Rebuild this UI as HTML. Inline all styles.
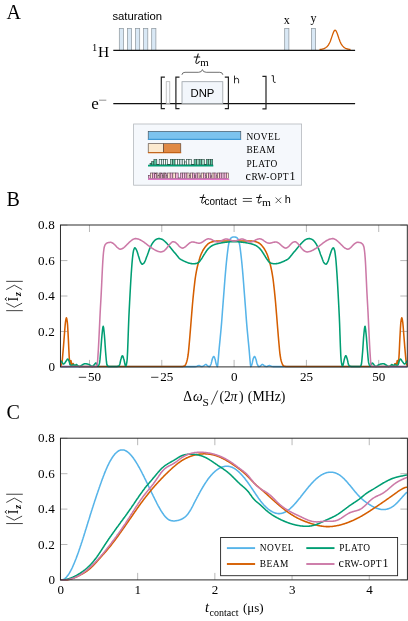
<!DOCTYPE html><html><head><meta charset="utf-8"><title>figure</title>
<style>html,body{margin:0;padding:0;background:#fff;}svg{display:block;will-change:transform}text{fill:#000}</style></head><body>
<svg width="408" height="621" viewBox="0 0 408 621">
<rect width="408" height="621" fill="#fff"/>
<text x="6.6" y="19" style="font-family:&quot;Liberation Serif&quot;,serif;font-size:20px">A</text>
<text x="6.6" y="205.9" style="font-family:&quot;Liberation Serif&quot;,serif;font-size:20px">B</text>
<text x="6.6" y="418.7" style="font-family:&quot;Liberation Serif&quot;,serif;font-size:20px">C</text>
<text x="112.4" y="19.7" style="font-family:&quot;Liberation Sans&quot;,sans-serif;font-size:11.3px" fill="#111">saturation</text>
<rect x="119.3" y="28.4" width="4.2" height="22" fill="#d9e8f5" stroke="#8c959c" stroke-width="0.7"/>
<rect x="127.4" y="28.4" width="4.2" height="22" fill="#d9e8f5" stroke="#8c959c" stroke-width="0.7"/>
<rect x="135.5" y="28.4" width="4.2" height="22" fill="#d9e8f5" stroke="#8c959c" stroke-width="0.7"/>
<rect x="143.6" y="28.4" width="4.2" height="22" fill="#d9e8f5" stroke="#8c959c" stroke-width="0.7"/>
<rect x="151.7" y="28.4" width="4.2" height="22" fill="#d9e8f5" stroke="#8c959c" stroke-width="0.7"/>
<rect x="284.7" y="28.4" width="4.2" height="22" fill="#d9e8f5" stroke="#8c959c" stroke-width="0.7"/>
<rect x="311.4" y="28.4" width="4.2" height="22" fill="#d9e8f5" stroke="#8c959c" stroke-width="0.7"/>
<path d="M319.5,49.6 320.0,49.5 320.5,49.5 321.0,49.4 321.5,49.3 322.0,49.2 322.5,49.1 323.0,48.9 323.5,48.8 324.0,48.6 324.5,48.4 325.0,48.1 325.5,47.8 326.0,47.5 326.5,47.1 327.0,46.7 327.5,46.1 328.0,45.5 328.5,44.8 329.0,43.9 329.5,43.0 330.0,41.9 330.5,40.7 331.0,39.3 331.5,37.9 332.0,36.4 332.5,34.9 333.0,33.5 333.5,32.2 334.0,31.2 334.5,30.5 335.0,30.2 335.5,30.3 336.0,30.9 336.5,31.8 337.0,32.9 337.5,34.3 338.0,35.8 338.5,37.3 339.0,38.8 339.5,40.1 340.0,41.4 340.5,42.5 341.0,43.6 341.5,44.4 342.0,45.2 342.5,45.9 343.0,46.4 343.5,46.9 344.0,47.4 344.5,47.7 345.0,48.0 345.5,48.3 346.0,48.5 346.5,48.7 347.0,48.9 347.5,49.0 348.0,49.1 348.5,49.2 349.0,49.3 349.5,49.4 350.0,49.5 350.5,49.6" fill="none" stroke="#D55E00" stroke-width="1.3"/>
<line x1="113.3" y1="50.3" x2="355.1" y2="50.35" stroke="#111" stroke-width="1.3"/>
<text x="92" y="51.2" style="font-family:&quot;Liberation Serif&quot;,serif;font-size:10.5px">1</text>
<text x="97.9" y="56.9" style="font-family:&quot;Liberation Serif&quot;,serif;font-size:15.5px">H</text>
<text x="286.8" y="23.8" text-anchor="middle" style="font-family:&quot;Liberation Serif&quot;,serif;font-size:12px">x</text>
<text x="313.5" y="22.2" text-anchor="middle" style="font-family:&quot;Liberation Serif&quot;,serif;font-size:12px">y</text>
<line x1="113.3" y1="103.6" x2="355.1" y2="103.65" stroke="#111" stroke-width="1.3"/>
<text x="91.3" y="109" style="font-family:&quot;Liberation Serif&quot;,serif;font-size:17px">e</text>
<line x1="99" y1="100.2" x2="106.3" y2="100.2" stroke="#777" stroke-width="0.8"/>
<rect x="166.2" y="81.7" width="3.6" height="21.9" fill="#fbfcfe" stroke="#aaa" stroke-width="0.7"/>
<rect x="182" y="81.7" width="40.8" height="21.9" fill="#f2f6fb" stroke="#9aa0a6" stroke-width="0.8"/>
<text x="202.4" y="96.8" text-anchor="middle" style="font-family:&quot;Liberation Sans&quot;,sans-serif;font-size:11.3px" fill="#223">DNP</text>
<path d="M164.9,77.2 H161.3 V108.6 H164.9" fill="none" stroke="#222" stroke-width="1.2"/>
<path d="M179.5,77.2 H175.9 V108.6 H179.5" fill="none" stroke="#222" stroke-width="1.2"/>
<path d="M224.8,77.2 H228.4 V108.6 H224.8" fill="none" stroke="#222" stroke-width="1.2"/>
<path d="M262.4,76.4 H266.0 V108.8 H262.4" fill="none" stroke="#222" stroke-width="1.2"/>
<path d="M234.5,75.6 V83.3 M234.5,80 Q234.9,78.2 236.7,78.2 Q238.6,78.2 238.6,80.2 V83.3" fill="none" stroke="#222" stroke-width="0.95"/>
<path d="M271.6,75.7 H273.4 V81.3 Q273.4,82.6 275.6,82.4" fill="none" stroke="#222" stroke-width="1.0"/>
<path d="M181.9,74.8 Q182.2,72.3 185,72.3 H198.5 Q201.8,72.3 202.4,69.6 Q203,72.3 206.3,72.3 H219.8 Q222.6,72.3 222.9,74.8" fill="none" stroke="#333" stroke-width="0.7"/>
<path d="M198.20,53.90 L196.00,61.40 Q195.50,63.40 196.90,63.40 Q198.20,63.40 199.30,61.50 M194.20,57.00 L199.80,57.00" fill="none" stroke="#111" stroke-width="1.05" stroke-linecap="round"/>
<text x="200.3" y="65.7" style="font-family:&quot;Liberation Serif&quot;,serif;font-size:9.4px" textLength="8.5" lengthAdjust="spacingAndGlyphs">m</text>
<rect x="133.6" y="124" width="168" height="61.2" fill="#f5f8fc" stroke="#b4b8bd" stroke-width="0.8"/>
<rect x="148.2" y="131.3" width="92.6" height="8" fill="#7cc3ee" stroke="#3b4650" stroke-width="0.6"/>
<line x1="147.9" y1="139.4" x2="241.1" y2="139.4" stroke="#3f9ad6" stroke-width="1.1"/>
<rect x="148.2" y="143.7" width="15.2" height="8.8" fill="#fbe9cf" stroke="#4a3a30" stroke-width="0.6"/>
<rect x="163.4" y="143.7" width="17.4" height="8.8" fill="#e08a45" stroke="#4a3a30" stroke-width="0.6"/>
<line x1="147.9" y1="152.7" x2="181.2" y2="152.7" stroke="#D55E00" stroke-width="1.1"/>
<rect x="150.00" y="163.28" width="1.70" height="1.62" fill="#5cc0a0" stroke="#27473d" stroke-width="0.6"/><rect x="151.70" y="161.55" width="2.20" height="3.35" fill="#5cc0a0" stroke="#27473d" stroke-width="0.6"/><rect x="153.90" y="159.50" width="2.90" height="5.40" fill="#5cc0a0" stroke="#27473d" stroke-width="0.6"/><rect x="156.80" y="164.36" width="2.40" height="0.54" fill="#27473d" stroke="#27473d" stroke-width="0.6"/><rect x="159.20" y="159.50" width="2.10" height="5.40" fill="#eef4f6" stroke="#27473d" stroke-width="0.6"/><rect x="161.30" y="159.50" width="2.10" height="5.40" fill="#dfe8ee" stroke="#27473d" stroke-width="0.6"/><rect x="163.40" y="159.50" width="2.10" height="5.40" fill="#ffffff" stroke="#27473d" stroke-width="0.6"/><rect x="165.50" y="159.50" width="2.10" height="5.40" fill="#eef4f6" stroke="#27473d" stroke-width="0.6"/><rect x="167.60" y="164.36" width="2.70" height="0.54" fill="#27473d" stroke="#27473d" stroke-width="0.6"/><rect x="170.30" y="159.50" width="2.38" height="5.40" fill="#a6dcc9" stroke="#27473d" stroke-width="0.6"/><rect x="172.68" y="159.50" width="2.38" height="5.40" fill="#5cc0a0" stroke="#27473d" stroke-width="0.6"/><rect x="175.07" y="159.50" width="2.38" height="5.40" fill="#ffffff" stroke="#27473d" stroke-width="0.6"/><rect x="177.45" y="159.50" width="2.38" height="5.40" fill="#eef4f6" stroke="#27473d" stroke-width="0.6"/><rect x="179.83" y="159.50" width="2.38" height="5.40" fill="#dfe8ee" stroke="#27473d" stroke-width="0.6"/><rect x="182.22" y="159.50" width="2.38" height="5.40" fill="#eef4f6" stroke="#27473d" stroke-width="0.6"/><rect x="184.60" y="161.93" width="1.80" height="2.97" fill="#eef4f6" stroke="#27473d" stroke-width="0.6"/><rect x="186.40" y="159.50" width="2.55" height="5.40" fill="#ffffff" stroke="#27473d" stroke-width="0.6"/><rect x="188.95" y="159.50" width="2.55" height="5.40" fill="#eef4f6" stroke="#27473d" stroke-width="0.6"/><rect x="191.50" y="164.36" width="2.60" height="0.54" fill="#27473d" stroke="#27473d" stroke-width="0.6"/><rect x="194.10" y="159.50" width="2.55" height="5.40" fill="#5cc0a0" stroke="#27473d" stroke-width="0.6"/><rect x="196.65" y="159.50" width="2.55" height="5.40" fill="#a6dcc9" stroke="#27473d" stroke-width="0.6"/><rect x="199.20" y="159.50" width="2.55" height="5.40" fill="#5cc0a0" stroke="#27473d" stroke-width="0.6"/><rect x="201.75" y="159.50" width="2.55" height="5.40" fill="#a6dcc9" stroke="#27473d" stroke-width="0.6"/><rect x="204.30" y="164.36" width="2.20" height="0.54" fill="#27473d" stroke="#27473d" stroke-width="0.6"/><rect x="206.50" y="159.50" width="2.07" height="5.40" fill="#5cc0a0" stroke="#27473d" stroke-width="0.6"/><rect x="208.57" y="159.50" width="2.07" height="5.40" fill="#a6dcc9" stroke="#27473d" stroke-width="0.6"/><rect x="210.63" y="159.50" width="2.07" height="5.40" fill="#5cc0a0" stroke="#27473d" stroke-width="0.6"/><line x1="148.0" y1="165.60" x2="213.29999999999998" y2="165.60" stroke="#009E73" stroke-width="1.6"/>
<rect x="148.60" y="175.47" width="1.70" height="3.03" fill="#f2b3d9" stroke="#5e3c52" stroke-width="0.6"/><rect x="150.30" y="173.00" width="2.20" height="5.50" fill="#fbe7d2" stroke="#5e3c52" stroke-width="0.6"/><rect x="152.50" y="173.00" width="2.20" height="5.50" fill="#f2b3d9" stroke="#5e3c52" stroke-width="0.6"/><rect x="154.70" y="173.00" width="1.65" height="5.50" fill="#f2b3d9" stroke="#5e3c52" stroke-width="0.6"/><rect x="156.35" y="173.00" width="1.65" height="5.50" fill="#fbe7d2" stroke="#5e3c52" stroke-width="0.6"/><rect x="158.00" y="175.20" width="1.30" height="3.30" fill="#fbe7d2" stroke="#5e3c52" stroke-width="0.6"/><rect x="159.30" y="173.00" width="1.55" height="5.50" fill="#fbe7d2" stroke="#5e3c52" stroke-width="0.6"/><rect x="160.85" y="173.00" width="1.55" height="5.50" fill="#f2b3d9" stroke="#5e3c52" stroke-width="0.6"/><rect x="162.40" y="175.47" width="1.10" height="3.03" fill="#fbe7d2" stroke="#5e3c52" stroke-width="0.6"/><rect x="163.50" y="173.00" width="1.35" height="5.50" fill="#fbe7d2" stroke="#5e3c52" stroke-width="0.6"/><rect x="164.85" y="173.00" width="1.35" height="5.50" fill="#f2b3d9" stroke="#5e3c52" stroke-width="0.6"/><rect x="166.20" y="175.20" width="1.30" height="3.30" fill="#f6cfe4" stroke="#5e3c52" stroke-width="0.6"/><rect x="167.50" y="173.00" width="2.67" height="5.50" fill="#fbe7d2" stroke="#5e3c52" stroke-width="0.6"/><rect x="170.18" y="173.00" width="2.67" height="5.50" fill="#f2b3d9" stroke="#5e3c52" stroke-width="0.6"/><rect x="172.85" y="173.00" width="2.67" height="5.50" fill="#fbe7d2" stroke="#5e3c52" stroke-width="0.6"/><rect x="175.52" y="173.00" width="2.67" height="5.50" fill="#f2b3d9" stroke="#5e3c52" stroke-width="0.6"/><rect x="178.20" y="177.95" width="2.20" height="0.55" fill="#5e3c52" stroke="#5e3c52" stroke-width="0.6"/><rect x="180.40" y="173.00" width="2.20" height="5.50" fill="#f2b3d9" stroke="#5e3c52" stroke-width="0.6"/><rect x="182.60" y="173.00" width="2.20" height="5.50" fill="#f6cfe4" stroke="#5e3c52" stroke-width="0.6"/><rect x="184.80" y="173.00" width="2.20" height="5.50" fill="#f2b3d9" stroke="#5e3c52" stroke-width="0.6"/><rect x="187.00" y="173.00" width="2.20" height="5.50" fill="#fbe7d2" stroke="#5e3c52" stroke-width="0.6"/><rect x="189.20" y="175.47" width="1.20" height="3.03" fill="#fbe7d2" stroke="#5e3c52" stroke-width="0.6"/><rect x="190.40" y="173.00" width="2.10" height="5.50" fill="#fbe7d2" stroke="#5e3c52" stroke-width="0.6"/><rect x="192.50" y="173.00" width="2.10" height="5.50" fill="#f2b3d9" stroke="#5e3c52" stroke-width="0.6"/><rect x="194.60" y="175.75" width="1.20" height="2.75" fill="#fbe7d2" stroke="#5e3c52" stroke-width="0.6"/><rect x="195.80" y="173.00" width="2.10" height="5.50" fill="#f2b3d9" stroke="#5e3c52" stroke-width="0.6"/><rect x="197.90" y="173.00" width="2.10" height="5.50" fill="#fbe7d2" stroke="#5e3c52" stroke-width="0.6"/><rect x="200.00" y="175.75" width="1.20" height="2.75" fill="#f6cfe4" stroke="#5e3c52" stroke-width="0.6"/><rect x="201.20" y="173.00" width="2.10" height="5.50" fill="#fbe7d2" stroke="#5e3c52" stroke-width="0.6"/><rect x="203.30" y="173.00" width="2.10" height="5.50" fill="#f2b3d9" stroke="#5e3c52" stroke-width="0.6"/><rect x="205.40" y="175.75" width="1.20" height="2.75" fill="#f6cfe4" stroke="#5e3c52" stroke-width="0.6"/><rect x="206.60" y="173.00" width="2.10" height="5.50" fill="#fbe7d2" stroke="#5e3c52" stroke-width="0.6"/><rect x="208.70" y="173.00" width="2.10" height="5.50" fill="#f2b3d9" stroke="#5e3c52" stroke-width="0.6"/><rect x="210.80" y="175.75" width="1.20" height="2.75" fill="#f6cfe4" stroke="#5e3c52" stroke-width="0.6"/><rect x="212.00" y="173.00" width="2.10" height="5.50" fill="#fbe7d2" stroke="#5e3c52" stroke-width="0.6"/><rect x="214.10" y="173.00" width="2.10" height="5.50" fill="#f2b3d9" stroke="#5e3c52" stroke-width="0.6"/><rect x="216.20" y="175.75" width="1.20" height="2.75" fill="#fbe7d2" stroke="#5e3c52" stroke-width="0.6"/><rect x="217.40" y="173.00" width="2.24" height="5.50" fill="#fbe7d2" stroke="#5e3c52" stroke-width="0.6"/><rect x="219.64" y="173.00" width="2.24" height="5.50" fill="#f2b3d9" stroke="#5e3c52" stroke-width="0.6"/><rect x="221.88" y="173.00" width="2.24" height="5.50" fill="#f6cfe4" stroke="#5e3c52" stroke-width="0.6"/><rect x="224.12" y="173.00" width="2.24" height="5.50" fill="#f2b3d9" stroke="#5e3c52" stroke-width="0.6"/><rect x="226.36" y="173.00" width="2.24" height="5.50" fill="#fbe7d2" stroke="#5e3c52" stroke-width="0.6"/><line x1="148.0" y1="179.15" x2="229.2" y2="179.15" stroke="#e277c8" stroke-width="1.5"/>
<text x="246.4" y="140.1" style="font-family:&quot;Liberation Serif&quot;,serif;font-size:9.4px;letter-spacing:0.45px" text-anchor="start">NOVEL</text>
<text x="246.4" y="153.1" style="font-family:&quot;Liberation Serif&quot;,serif;font-size:9.4px;letter-spacing:0.45px" text-anchor="start">BEAM</text>
<text x="246.4" y="166.6" style="font-family:&quot;Liberation Serif&quot;,serif;font-size:9.4px;letter-spacing:0.45px" text-anchor="start">PLATO</text>
<text x="245.6" y="180.1" style="font-family:&quot;Liberation Serif&quot;,serif;font-size:9.4px;letter-spacing:0.45px"><tspan style="font-size:12px">c</tspan>RW-OPT<tspan style="font-size:12px" dx="0.6">1</tspan></text>
<path d="M203.62,194.75 L201.68,201.35 Q201.24,203.11 202.48,203.11 Q203.62,203.11 204.59,201.44 M200.10,197.48 L205.03,197.48" fill="none" stroke="#111" stroke-width="1.0" stroke-linecap="round"/>
<text x="204.5" y="205.3" style="font-family:&quot;Liberation Sans&quot;,sans-serif;font-size:10.5px" fill="#111" textLength="32.2" lengthAdjust="spacingAndGlyphs">contact</text>
<path d="M242.8,198.5 H251.9 M242.8,201.4 H251.9" stroke="#111" stroke-width="0.75" fill="none"/>
<path d="M260.12,194.75 L258.18,201.35 Q257.74,203.11 258.98,203.11 Q260.12,203.11 261.09,201.44 M256.60,197.48 L261.53,197.48" fill="none" stroke="#111" stroke-width="1.0" stroke-linecap="round"/>
<text x="262.1" y="205.6" style="font-family:&quot;Liberation Serif&quot;,serif;font-size:9.6px" textLength="8.9" lengthAdjust="spacingAndGlyphs">m</text>
<path d="M275.6,197.5 L281.2,203.1 M281.2,197.5 L275.6,203.1" stroke="#222" stroke-width="0.75" fill="none"/>
<text x="284.7" y="203.2" style="font-family:&quot;Liberation Sans&quot;,sans-serif;font-size:10.9px" fill="#111">h</text>
<line x1="89.475" y1="366.9" x2="89.475" y2="359.9" stroke="#7d7d7d" stroke-width="0.55"/><line x1="89.475" y1="225.0" x2="89.475" y2="232.0" stroke="#7d7d7d" stroke-width="0.55"/><line x1="161.7875" y1="366.9" x2="161.7875" y2="359.9" stroke="#7d7d7d" stroke-width="0.55"/><line x1="161.7875" y1="225.0" x2="161.7875" y2="232.0" stroke="#7d7d7d" stroke-width="0.55"/><line x1="234.1" y1="366.9" x2="234.1" y2="359.9" stroke="#7d7d7d" stroke-width="0.55"/><line x1="234.1" y1="225.0" x2="234.1" y2="232.0" stroke="#7d7d7d" stroke-width="0.55"/><line x1="306.4125" y1="366.9" x2="306.4125" y2="359.9" stroke="#7d7d7d" stroke-width="0.55"/><line x1="306.4125" y1="225.0" x2="306.4125" y2="232.0" stroke="#7d7d7d" stroke-width="0.55"/><line x1="378.725" y1="366.9" x2="378.725" y2="359.9" stroke="#7d7d7d" stroke-width="0.55"/><line x1="378.725" y1="225.0" x2="378.725" y2="232.0" stroke="#7d7d7d" stroke-width="0.55"/><line x1="60.45" y1="366.9" x2="67.45" y2="366.9" stroke="#7d7d7d" stroke-width="0.55"/><line x1="407.3" y1="366.9" x2="400.3" y2="366.9" stroke="#7d7d7d" stroke-width="0.55"/><line x1="60.45" y1="331.46" x2="67.45" y2="331.46" stroke="#7d7d7d" stroke-width="0.55"/><line x1="407.3" y1="331.46" x2="400.3" y2="331.46" stroke="#7d7d7d" stroke-width="0.55"/><line x1="60.45" y1="296.02" x2="67.45" y2="296.02" stroke="#7d7d7d" stroke-width="0.55"/><line x1="407.3" y1="296.02" x2="400.3" y2="296.02" stroke="#7d7d7d" stroke-width="0.55"/><line x1="60.45" y1="260.58" x2="67.45" y2="260.58" stroke="#7d7d7d" stroke-width="0.55"/><line x1="407.3" y1="260.58" x2="400.3" y2="260.58" stroke="#7d7d7d" stroke-width="0.55"/><line x1="60.45" y1="225.14" x2="67.45" y2="225.14" stroke="#7d7d7d" stroke-width="0.55"/><line x1="407.3" y1="225.14" x2="400.3" y2="225.14" stroke="#7d7d7d" stroke-width="0.55"/>
<clipPath id="cb"><rect x="60.45" y="225.0" width="346.85" height="142.89999999999998"/></clipPath>
<g clip-path="url(#cb)">
<path d="M60.4,366.6 60.8,366.6 61.2,366.6 61.6,366.6 62.0,366.6 62.4,366.6 62.8,366.6 63.2,366.6 63.6,366.6 64.0,366.6 64.4,366.6 64.8,366.6 65.2,366.6 65.6,366.6 66.0,366.6 66.4,366.6 66.8,366.6 67.2,366.6 67.6,366.6 68.0,366.6 68.4,366.6 68.8,366.6 69.2,366.6 69.6,366.6 70.0,366.6 70.4,366.6 70.8,366.6 71.2,366.6 71.6,366.6 72.0,366.6 72.4,366.6 72.8,366.6 73.2,366.6 73.6,366.6 74.0,366.6 74.4,366.6 74.8,366.6 75.2,366.6 75.6,366.6 76.0,366.6 76.4,366.6 76.8,366.6 77.2,366.6 77.6,366.6 78.0,366.6 78.4,366.6 78.8,366.6 79.2,366.6 79.6,366.6 80.0,366.6 80.4,366.6 80.8,366.6 81.2,366.6 81.6,366.6 82.0,366.6 82.4,366.6 82.8,366.6 83.2,366.6 83.6,366.6 84.0,366.6 84.4,366.6 84.8,366.6 85.2,366.6 85.6,366.6 86.0,366.6 86.4,366.6 86.8,366.6 87.2,366.6 87.6,366.6 88.0,366.6 88.4,366.6 88.8,366.6 89.2,366.6 89.6,366.6 90.0,366.6 90.4,366.6 90.8,366.6 91.2,366.6 91.6,366.6 92.0,366.6 92.4,366.6 92.8,366.6 93.2,366.6 93.6,366.6 94.0,366.6 94.4,366.6 94.8,366.6 95.2,366.6 95.6,366.6 96.0,366.6 96.4,366.6 96.8,366.6 97.2,366.6 97.6,366.6 98.0,366.6 98.4,366.6 98.8,366.6 99.2,366.6 99.6,366.6 100.0,366.6 100.4,366.6 100.8,366.6 101.2,366.6 101.6,366.6 102.0,366.6 102.4,366.6 102.8,366.6 103.2,366.6 103.6,366.6 104.0,366.6 104.4,366.6 104.8,366.6 105.2,366.6 105.6,366.6 106.0,366.6 106.4,366.6 106.8,366.6 107.2,366.6 107.6,366.6 108.0,366.6 108.4,366.6 108.8,366.6 109.2,366.6 109.6,366.6 110.0,366.6 110.4,366.6 110.8,366.6 111.2,366.6 111.6,366.6 112.0,366.6 112.4,366.6 112.8,366.6 113.2,366.6 113.6,366.6 114.0,366.6 114.4,366.6 114.8,366.6 115.2,366.6 115.6,366.6 116.0,366.6 116.4,366.6 116.8,366.6 117.2,366.6 117.6,366.6 118.0,366.6 118.4,366.6 118.8,366.6 119.2,366.6 119.6,366.6 120.0,366.6 120.4,366.6 120.8,366.6 121.2,366.6 121.6,366.6 122.0,366.6 122.4,366.6 122.8,366.6 123.2,366.6 123.6,366.6 124.0,366.6 124.4,366.6 124.8,366.6 125.2,366.6 125.6,366.6 126.0,366.6 126.4,366.6 126.8,366.6 127.2,366.6 127.6,366.6 128.0,366.6 128.4,366.6 128.8,366.6 129.2,366.6 129.6,366.6 130.0,366.6 130.4,366.6 130.8,366.6 131.2,366.6 131.6,366.6 132.0,366.6 132.4,366.6 132.8,366.6 133.2,366.6 133.6,366.6 134.0,366.6 134.4,366.6 134.8,366.6 135.2,366.6 135.6,366.6 136.0,366.6 136.4,366.6 136.8,366.6 137.2,366.6 137.6,366.6 138.0,366.6 138.4,366.6 138.8,366.6 139.2,366.6 139.6,366.6 140.0,366.6 140.4,366.6 140.8,366.6 141.2,366.6 141.6,366.6 142.0,366.6 142.4,366.6 142.8,366.6 143.2,366.6 143.6,366.6 144.0,366.6 144.4,366.6 144.8,366.6 145.2,366.6 145.6,366.6 146.0,366.6 146.4,366.6 146.8,366.6 147.2,366.6 147.6,366.6 148.0,366.6 148.4,366.6 148.8,366.6 149.2,366.6 149.6,366.6 150.0,366.6 150.0,366.6 150.4,366.6 150.8,366.6 151.2,366.6 151.6,366.6 152.0,366.6 152.4,366.6 152.8,366.6 153.2,366.6 153.6,366.6 154.0,366.6 154.4,366.6 154.8,366.6 155.2,366.6 155.6,366.6 156.0,366.6 156.4,366.6 156.8,366.6 157.2,366.6 157.6,366.6 158.0,366.6 158.4,366.6 158.8,366.6 159.2,366.6 159.6,366.6 160.0,366.6 160.4,366.6 160.8,366.6 161.2,366.6 161.6,366.6 162.0,366.6 162.4,366.6 162.8,366.6 163.2,366.6 163.6,366.6 164.0,366.6 164.4,366.6 164.8,366.6 165.2,366.6 165.6,366.6 166.0,366.6 166.4,366.6 166.8,366.6 167.2,366.6 167.6,366.6 168.0,366.6 168.4,366.6 168.8,366.6 169.2,366.6 169.6,366.6 170.0,366.6 170.4,366.6 170.8,366.6 171.2,366.6 171.6,366.6 172.0,366.6 172.4,366.6 172.8,366.6 173.2,366.6 173.6,366.6 174.0,366.6 174.4,366.6 174.8,366.6 175.2,366.6 175.6,366.6 176.0,366.6 176.4,366.6 176.8,366.6 177.2,366.6 177.6,366.6 178.0,366.6 178.4,366.6 178.8,366.6 179.2,366.6 179.6,366.6 180.0,366.6 180.4,366.6 180.8,366.6 181.2,366.6 181.6,366.6 182.0,366.6 182.4,366.6 182.8,366.6 183.2,366.6 183.6,366.6 184.0,366.6 184.4,366.6 184.8,366.6 185.2,366.6 185.6,366.6 186.0,366.6 186.4,366.6 186.8,366.6 187.2,366.6 187.6,366.6 188.0,366.6 188.4,366.6 188.8,366.6 189.2,366.6 189.6,366.6 190.0,366.6 190.4,366.6 190.8,366.6 191.2,366.6 191.6,366.6 192.0,366.6 192.4,366.6 192.8,366.6 193.2,366.6 193.6,366.6 194.0,366.6 194.4,366.6 194.8,366.6 195.0,366.6 195.2,366.6 195.6,366.6 196.0,366.5 196.0,366.5 196.4,366.4 196.8,366.3 197.2,366.1 197.6,366.0 198.0,365.8 198.4,365.7 198.8,365.6 199.0,365.6 199.2,365.6 199.6,365.7 200.0,365.9 200.4,366.1 200.8,366.3 201.2,366.5 201.5,366.5 201.6,366.5 202.0,366.5 202.4,366.4 202.8,366.2 203.2,366.1 203.5,366.0 203.6,366.0 204.0,365.7 204.4,365.3 204.8,365.0 205.2,364.6 205.6,364.4 205.8,364.4 206.0,364.4 206.4,364.7 206.8,365.1 207.2,365.5 207.6,365.9 207.8,366.0 208.0,366.1 208.4,366.3 208.8,366.5 209.2,366.6 209.4,366.6 209.6,366.5 210.0,366.1 210.4,365.4 210.8,364.5 211.0,364.0 211.2,363.4 211.6,361.9 212.0,360.2 212.4,358.8 212.5,358.5 212.8,357.8 213.2,357.0 213.6,356.5 213.7,356.5 214.0,356.7 214.4,357.3 214.8,358.3 214.9,358.5 215.2,359.5 215.6,361.4 216.0,363.3 216.2,364.0 216.4,364.6 216.8,365.7 217.2,366.5 217.4,366.6 217.6,365.9 218.0,362.1 218.2,360.0 218.4,357.8 218.8,352.8 219.0,350.4 219.2,348.2 219.6,344.1 220.0,340.1 220.2,338.0 220.4,335.9 220.8,331.7 221.2,327.4 221.5,323.9 221.6,322.7 222.0,317.5 222.4,312.0 222.7,308.0 222.8,306.7 223.2,301.5 223.6,296.4 223.9,292.5 224.0,291.2 224.4,285.9 224.8,280.7 225.1,277.0 225.2,275.8 225.6,271.1 226.0,266.6 226.3,263.5 226.4,262.5 226.8,258.6 227.2,255.0 227.5,252.5 227.6,251.7 228.0,248.5 228.4,245.7 228.7,244.0 228.8,243.5 229.2,241.9 229.6,240.5 230.0,239.5 230.0,239.5 230.4,238.8 230.8,238.2 231.2,237.8 231.5,237.6 231.6,237.6 232.0,237.4 232.4,237.2 232.8,237.1 233.2,237.0 233.6,236.9 234.0,236.9 234.1,236.9 234.4,236.9 234.8,237.0 235.2,237.0 235.6,237.2 236.0,237.3 236.4,237.5 236.7,237.6 236.8,237.7 237.2,238.0 237.6,238.5 238.0,239.1 238.2,239.5 238.4,239.9 238.8,241.1 239.2,242.7 239.5,244.0 239.6,244.5 240.0,247.0 240.4,250.1 240.7,252.5 240.8,253.3 241.2,256.8 241.6,260.5 241.9,263.5 242.0,264.5 242.4,268.8 242.8,273.4 243.1,277.0 243.2,278.2 243.6,283.3 244.0,288.6 244.3,292.5 244.4,293.8 244.8,298.9 245.2,304.1 245.5,308.0 245.6,309.3 246.0,314.8 246.4,320.1 246.7,323.9 246.8,325.1 247.2,329.6 247.6,333.8 248.0,338.0 248.0,338.0 248.4,342.1 248.8,346.1 249.2,350.4 249.2,350.4 249.6,355.3 250.0,360.0 250.0,360.0 250.4,364.3 250.8,366.6 250.8,366.6 251.2,366.2 251.6,365.2 252.0,364.0 252.0,364.0 252.4,362.4 252.8,360.4 253.2,358.8 253.3,358.5 253.6,357.8 254.0,357.0 254.4,356.5 254.5,356.5 254.8,356.7 255.2,357.4 255.6,358.3 255.7,358.5 256.0,359.4 256.4,361.0 256.8,362.7 257.2,364.0 257.2,364.0 257.6,364.9 258.0,365.8 258.4,366.4 258.8,366.6 258.8,366.6 259.2,366.5 259.6,366.4 260.0,366.2 260.4,366.0 260.4,366.0 260.8,365.7 261.2,365.3 261.6,364.9 262.0,364.5 262.4,364.4 262.4,364.4 262.8,364.5 263.2,364.8 263.6,365.1 264.0,365.5 264.4,365.8 264.7,366.0 264.8,366.0 265.2,366.2 265.6,366.3 266.0,366.4 266.4,366.5 266.7,366.5 266.8,366.5 267.2,366.4 267.6,366.2 268.0,366.0 268.4,365.8 268.8,365.7 269.2,365.6 269.2,365.6 269.6,365.6 270.0,365.7 270.4,365.9 270.8,366.0 271.2,366.2 271.6,366.4 272.0,366.5 272.2,366.5 272.4,366.5 272.8,366.6 273.2,366.6 273.2,366.6 273.6,366.6 274.0,366.6 274.4,366.6 274.8,366.6 275.2,366.6 275.6,366.6 276.0,366.6 276.4,366.6 276.8,366.6 277.2,366.6 277.6,366.6 278.0,366.6 278.4,366.6 278.8,366.6 279.2,366.6 279.6,366.6 280.0,366.6 280.4,366.6 280.8,366.6 281.2,366.6 281.6,366.6 282.0,366.6 282.4,366.6 282.8,366.6 283.2,366.6 283.6,366.6 284.0,366.6 284.4,366.6 284.8,366.6 285.2,366.6 285.6,366.6 286.0,366.6 286.4,366.6 286.8,366.6 287.2,366.6 287.6,366.6 288.0,366.6 288.4,366.6 288.8,366.6 289.2,366.6 289.6,366.6 290.0,366.6 290.4,366.6 290.8,366.6 291.2,366.6 291.6,366.6 292.0,366.6 292.4,366.6 292.8,366.6 293.2,366.6 293.6,366.6 294.0,366.6 294.4,366.6 294.8,366.6 295.2,366.6 295.6,366.6 296.0,366.6 296.4,366.6 296.8,366.6 297.2,366.6 297.6,366.6 298.0,366.6 298.4,366.6 298.8,366.6 299.2,366.6 299.6,366.6 300.0,366.6 300.4,366.6 300.8,366.6 301.2,366.6 301.6,366.6 302.0,366.6 302.4,366.6 302.8,366.6 303.2,366.6 303.6,366.6 304.0,366.6 304.4,366.6 304.8,366.6 305.2,366.6 305.6,366.6 306.0,366.6 306.4,366.6 306.8,366.6 307.2,366.6 307.6,366.6 308.0,366.6 308.4,366.6 308.8,366.6 309.2,366.6 309.6,366.6 310.0,366.6 310.4,366.6 310.8,366.6 311.2,366.6 311.6,366.6 312.0,366.6 312.4,366.6 312.8,366.6 313.2,366.6 313.6,366.6 314.0,366.6 314.4,366.6 314.8,366.6 315.2,366.6 315.6,366.6 316.0,366.6 316.4,366.6 316.8,366.6 317.2,366.6 317.6,366.6 318.0,366.6 318.2,366.6 318.4,366.6 318.8,366.6 319.2,366.6 319.6,366.6 320.0,366.6 320.4,366.6 320.8,366.6 321.2,366.6 321.6,366.6 322.0,366.6 322.4,366.6 322.8,366.6 323.2,366.6 323.6,366.6 324.0,366.6 324.4,366.6 324.8,366.6 325.2,366.6 325.6,366.6 326.0,366.6 326.4,366.6 326.8,366.6 327.2,366.6 327.6,366.6 328.0,366.6 328.4,366.6 328.8,366.6 329.2,366.6 329.6,366.6 330.0,366.6 330.4,366.6 330.8,366.6 331.2,366.6 331.6,366.6 332.0,366.6 332.4,366.6 332.8,366.6 333.2,366.6 333.6,366.6 334.0,366.6 334.4,366.6 334.8,366.6 335.2,366.6 335.6,366.6 336.0,366.6 336.4,366.6 336.8,366.6 337.2,366.6 337.6,366.6 338.0,366.6 338.4,366.6 338.8,366.6 339.2,366.6 339.6,366.6 340.0,366.6 340.4,366.6 340.8,366.6 341.2,366.6 341.6,366.6 342.0,366.6 342.4,366.6 342.8,366.6 343.2,366.6 343.6,366.6 344.0,366.6 344.4,366.6 344.8,366.6 345.2,366.6 345.6,366.6 346.0,366.6 346.4,366.6 346.8,366.6 347.2,366.6 347.6,366.6 348.0,366.6 348.4,366.6 348.8,366.6 349.2,366.6 349.6,366.6 350.0,366.6 350.4,366.6 350.8,366.6 351.2,366.6 351.6,366.6 352.0,366.6 352.4,366.6 352.8,366.6 353.2,366.6 353.6,366.6 354.0,366.6 354.4,366.6 354.8,366.6 355.2,366.6 355.6,366.6 356.0,366.6 356.4,366.6 356.8,366.6 357.2,366.6 357.6,366.6 358.0,366.6 358.4,366.6 358.8,366.6 359.2,366.6 359.6,366.6 360.0,366.6 360.4,366.6 360.8,366.6 361.2,366.6 361.6,366.6 362.0,366.6 362.4,366.6 362.8,366.6 363.2,366.6 363.6,366.6 364.0,366.6 364.4,366.6 364.8,366.6 365.2,366.6 365.6,366.6 366.0,366.6 366.4,366.6 366.8,366.6 367.2,366.6 367.6,366.6 368.0,366.6 368.4,366.6 368.8,366.6 369.2,366.6 369.6,366.6 370.0,366.6 370.4,366.6 370.8,366.6 371.2,366.6 371.6,366.6 372.0,366.6 372.4,366.6 372.8,366.6 373.2,366.6 373.6,366.6 374.0,366.6 374.4,366.6 374.8,366.6 375.2,366.6 375.6,366.6 376.0,366.6 376.4,366.6 376.8,366.6 377.2,366.6 377.6,366.6 378.0,366.6 378.4,366.6 378.8,366.6 379.2,366.6 379.6,366.6 380.0,366.6 380.4,366.6 380.8,366.6 381.2,366.6 381.6,366.6 382.0,366.6 382.4,366.6 382.8,366.6 383.2,366.6 383.6,366.6 384.0,366.6 384.4,366.6 384.8,366.6 385.2,366.6 385.6,366.6 386.0,366.6 386.4,366.6 386.8,366.6 387.2,366.6 387.6,366.6 388.0,366.6 388.4,366.6 388.8,366.6 389.2,366.6 389.6,366.6 390.0,366.6 390.4,366.6 390.8,366.6 391.2,366.6 391.6,366.6 392.0,366.6 392.4,366.6 392.8,366.6 393.2,366.6 393.6,366.6 394.0,366.6 394.4,366.6 394.8,366.6 395.2,366.6 395.6,366.6 396.0,366.6 396.4,366.6 396.8,366.6 397.2,366.6 397.6,366.6 398.0,366.6 398.4,366.6 398.8,366.6 399.2,366.6 399.6,366.6 400.0,366.6 400.4,366.6 400.8,366.6 401.2,366.6 401.6,366.6 402.0,366.6 402.4,366.6 402.8,366.6 403.2,366.6 403.6,366.6 404.0,366.6 404.4,366.6 404.8,366.6 405.2,366.6 405.6,366.6 406.0,366.6 406.4,366.6 406.8,366.6 407.2,366.6 407.6,366.6 407.8,366.6" fill="none" stroke="#56B4E9" stroke-width="1.55" stroke-linejoin="round" />
<path d="M60.4,366.0 60.8,365.8 61.2,365.2 61.6,364.3 61.7,364.0 62.0,362.5 62.4,358.8 62.8,354.2 63.0,352.0 63.2,349.8 63.6,344.9 64.0,339.7 64.3,336.0 64.4,334.8 64.8,329.5 65.2,324.6 65.5,322.0 65.6,321.3 66.0,318.9 66.4,317.8 66.4,317.8 66.8,318.8 67.2,321.3 67.3,322.0 67.6,325.4 68.0,332.4 68.3,338.0 68.4,339.9 68.8,348.8 69.2,356.7 69.3,358.0 69.6,361.5 70.0,364.0 70.0,364.0 70.4,362.5 70.8,360.6 70.9,360.5 71.2,361.7 71.6,364.4 71.8,365.0 72.0,364.9 72.4,364.3 72.8,363.6 73.0,363.5 73.2,363.6 73.6,364.4 74.0,365.4 74.4,366.0 74.5,366.0 74.8,365.9 75.2,365.7 75.6,365.4 76.0,365.3 76.0,365.3 76.4,365.4 76.8,365.6 77.2,365.9 77.6,366.2 78.0,366.3 78.0,366.3 78.4,366.3 78.8,366.3 79.2,366.3 79.6,366.4 80.0,366.4 80.4,366.4 80.8,366.4 81.2,366.4 81.6,366.4 82.0,366.4 82.4,366.4 82.8,366.4 83.2,366.4 83.6,366.5 84.0,366.5 84.4,366.5 84.8,366.5 85.2,366.5 85.6,366.5 86.0,366.5 86.4,366.5 86.8,366.5 87.2,366.5 87.6,366.5 88.0,366.5 88.4,366.5 88.8,366.5 89.2,366.5 89.6,366.5 90.0,366.5 90.0,366.5 90.4,366.5 90.8,366.5 91.2,366.5 91.6,366.5 92.0,366.5 92.4,366.5 92.8,366.5 93.2,366.5 93.6,366.5 94.0,366.5 94.4,366.5 94.8,366.5 95.2,366.5 95.6,366.5 96.0,366.5 96.4,366.5 96.8,366.5 97.2,366.5 97.6,366.5 98.0,366.5 98.4,366.5 98.8,366.5 99.2,366.5 99.6,366.5 100.0,366.5 100.4,366.5 100.8,366.5 101.2,366.5 101.6,366.5 102.0,366.5 102.4,366.5 102.8,366.5 103.2,366.5 103.6,366.5 104.0,366.5 104.4,366.5 104.8,366.5 105.2,366.5 105.6,366.5 106.0,366.5 106.4,366.5 106.8,366.5 107.2,366.5 107.6,366.5 108.0,366.5 108.4,366.5 108.8,366.5 109.2,366.5 109.6,366.5 110.0,366.5 110.4,366.5 110.8,366.5 111.2,366.5 111.6,366.5 112.0,366.5 112.4,366.5 112.8,366.5 113.2,366.5 113.6,366.5 114.0,366.5 114.4,366.5 114.8,366.5 115.2,366.5 115.6,366.5 116.0,366.5 116.4,366.5 116.8,366.5 117.2,366.5 117.6,366.5 118.0,366.5 118.4,366.5 118.8,366.5 119.2,366.5 119.6,366.5 120.0,366.5 120.4,366.5 120.8,366.5 121.2,366.5 121.6,366.5 122.0,366.5 122.4,366.5 122.8,366.5 123.2,366.5 123.6,366.5 124.0,366.5 124.4,366.5 124.8,366.5 125.2,366.5 125.6,366.5 126.0,366.5 126.4,366.5 126.8,366.5 127.2,366.5 127.6,366.5 128.0,366.5 128.4,366.5 128.8,366.5 129.2,366.5 129.6,366.5 130.0,366.5 130.4,366.5 130.8,366.5 131.2,366.5 131.6,366.5 132.0,366.5 132.4,366.5 132.8,366.5 133.2,366.5 133.6,366.5 134.0,366.5 134.4,366.5 134.8,366.5 135.2,366.5 135.6,366.5 136.0,366.5 136.4,366.5 136.8,366.5 137.2,366.5 137.6,366.5 138.0,366.5 138.4,366.5 138.8,366.5 139.2,366.5 139.6,366.5 140.0,366.5 140.4,366.5 140.8,366.5 141.2,366.5 141.6,366.5 142.0,366.5 142.4,366.5 142.8,366.5 143.2,366.5 143.6,366.5 144.0,366.5 144.4,366.5 144.8,366.5 145.2,366.5 145.6,366.5 146.0,366.5 146.4,366.5 146.8,366.5 147.2,366.5 147.6,366.5 148.0,366.5 148.4,366.5 148.8,366.5 149.2,366.5 149.6,366.5 150.0,366.5 150.0,366.5 150.4,366.5 150.8,366.5 151.2,366.5 151.6,366.5 152.0,366.5 152.4,366.5 152.8,366.5 153.2,366.5 153.6,366.5 154.0,366.5 154.4,366.5 154.8,366.5 155.2,366.5 155.6,366.5 156.0,366.5 156.4,366.5 156.8,366.5 157.2,366.5 157.6,366.5 158.0,366.5 158.4,366.5 158.8,366.5 159.2,366.5 159.6,366.5 160.0,366.5 160.4,366.5 160.8,366.5 161.2,366.5 161.6,366.5 162.0,366.5 162.4,366.5 162.8,366.5 163.2,366.5 163.6,366.5 164.0,366.5 164.4,366.5 164.8,366.5 165.2,366.5 165.6,366.5 166.0,366.5 166.4,366.5 166.8,366.5 167.2,366.5 167.6,366.5 168.0,366.5 168.4,366.5 168.8,366.5 169.2,366.5 169.6,366.5 170.0,366.5 170.4,366.5 170.8,366.5 171.2,366.5 171.6,366.5 172.0,366.5 172.4,366.5 172.8,366.5 173.2,366.5 173.6,366.5 174.0,366.5 174.4,366.5 174.8,366.5 175.2,366.5 175.6,366.5 176.0,366.5 176.4,366.5 176.8,366.5 177.2,366.5 177.6,366.5 178.0,366.5 178.4,366.5 178.8,366.5 179.2,366.5 179.6,366.5 180.0,366.5 180.4,366.5 180.8,366.5 181.0,366.5 181.2,366.5 181.6,366.5 182.0,366.5 182.4,366.4 182.8,366.4 183.2,366.3 183.6,366.2 184.0,366.1 184.4,366.0 184.5,366.0 184.8,365.8 185.2,365.3 185.6,364.5 186.0,363.6 186.4,362.6 186.6,362.0 186.8,361.4 187.2,359.9 187.6,357.9 188.0,355.6 188.1,355.0 188.4,352.6 188.8,348.6 189.2,344.1 189.3,343.0 189.6,339.6 190.0,334.8 190.4,329.9 190.5,328.7 190.8,325.0 191.2,320.0 191.6,315.0 191.6,315.0 192.0,310.1 192.4,305.3 192.8,300.8 192.9,299.7 193.2,296.6 193.6,292.6 194.0,288.9 194.1,288.0 194.4,285.3 194.8,281.8 195.2,278.7 195.3,278.0 195.6,276.0 196.0,273.6 196.4,271.4 196.8,269.4 197.1,268.0 197.2,267.5 197.6,265.8 198.0,264.2 198.4,262.8 198.8,261.3 198.9,261.0 199.2,260.0 199.6,258.6 200.0,257.3 200.4,256.1 200.8,255.0 201.0,254.5 201.2,254.0 201.6,253.1 202.0,252.3 202.4,251.5 202.8,250.7 203.2,250.0 203.5,249.5 203.6,249.3 204.0,248.7 204.4,248.1 204.8,247.5 205.2,247.0 205.6,246.5 206.0,246.0 206.0,246.0 206.4,245.5 206.8,245.1 207.2,244.7 207.6,244.3 208.0,243.9 208.4,243.6 208.4,243.6 208.8,243.3 209.2,243.1 209.6,242.8 210.0,242.6 210.4,242.4 210.8,242.3 211.0,242.2 211.2,242.1 211.6,242.0 212.0,241.9 212.4,241.7 212.8,241.6 213.2,241.6 213.5,241.5 213.6,241.5 214.0,241.4 214.4,241.4 214.8,241.3 215.2,241.3 215.6,241.2 216.0,241.2 216.4,241.1 216.8,241.1 217.0,241.1 217.2,241.1 217.6,241.1 218.0,241.1 218.4,241.0 218.8,241.0 219.2,241.0 219.6,241.0 220.0,241.0 220.4,241.0 220.8,241.0 221.0,241.0 221.2,241.0 221.6,241.0 222.0,241.0 222.4,241.0 222.8,241.0 223.2,241.0 223.6,241.0 224.0,241.0 224.4,241.0 224.8,241.0 225.2,241.0 225.6,241.0 226.0,241.0 226.4,241.0 226.8,241.0 227.0,241.0 227.2,241.0 227.6,241.0 228.0,241.0 228.4,241.0 228.8,241.0 229.2,241.0 229.6,241.0 230.0,241.0 230.4,241.0 230.8,241.0 231.2,241.0 231.6,241.0 232.0,241.0 232.4,241.0 232.8,241.0 233.2,241.0 233.6,241.0 234.0,241.0 234.1,241.0 234.4,241.0 234.8,241.0 235.2,241.0 235.6,241.0 236.0,241.0 236.4,241.0 236.8,241.0 237.2,241.0 237.6,241.0 238.0,241.0 238.4,241.0 238.8,241.0 239.2,241.0 239.6,241.0 240.0,241.0 240.4,241.0 240.8,241.0 241.2,241.0 241.2,241.0 241.6,241.0 242.0,241.0 242.4,241.0 242.8,241.0 243.2,241.0 243.6,241.0 244.0,241.0 244.4,241.0 244.8,241.0 245.2,241.0 245.6,241.0 246.0,241.0 246.4,241.0 246.8,241.0 247.2,241.0 247.2,241.0 247.6,241.0 248.0,241.0 248.4,241.0 248.8,241.0 249.2,241.0 249.6,241.0 250.0,241.1 250.4,241.1 250.8,241.1 251.2,241.1 251.2,241.1 251.6,241.1 252.0,241.1 252.4,241.2 252.8,241.2 253.2,241.3 253.6,241.3 254.0,241.4 254.4,241.5 254.7,241.5 254.8,241.5 255.2,241.6 255.6,241.7 256.0,241.8 256.4,241.9 256.8,242.1 257.2,242.2 257.2,242.2 257.6,242.4 258.0,242.5 258.4,242.7 258.8,243.0 259.2,243.2 259.6,243.5 259.8,243.6 260.0,243.7 260.4,244.1 260.8,244.5 261.2,244.9 261.6,245.3 262.0,245.8 262.2,246.0 262.4,246.2 262.8,246.7 263.2,247.3 263.6,247.8 264.0,248.4 264.4,249.0 264.7,249.5 264.8,249.7 265.2,250.4 265.6,251.1 266.0,251.8 266.4,252.7 266.8,253.6 267.2,254.5 267.2,254.5 267.6,255.5 268.0,256.7 268.4,258.0 268.8,259.3 269.2,260.7 269.3,261.0 269.6,262.0 270.0,263.5 270.4,265.0 270.8,266.7 271.1,268.0 271.2,268.5 271.6,270.4 272.0,272.5 272.4,274.8 272.8,277.3 272.9,278.0 273.2,280.2 273.6,283.5 274.0,287.1 274.1,288.0 274.4,290.7 274.8,294.6 275.2,298.6 275.3,299.7 275.6,303.0 276.0,307.7 276.4,312.6 276.6,315.0 276.8,317.5 277.2,322.5 277.6,327.5 277.7,328.7 278.0,332.4 278.4,337.3 278.8,341.9 278.9,343.0 279.2,346.3 279.6,350.7 280.0,354.3 280.1,355.0 280.4,356.8 280.8,359.0 281.2,360.7 281.6,362.0 281.6,362.0 282.0,363.1 282.4,364.1 282.8,365.0 283.2,365.6 283.6,366.0 283.7,366.0 284.0,366.1 284.4,366.2 284.8,366.3 285.2,366.3 285.6,366.4 286.0,366.4 286.4,366.5 286.8,366.5 287.2,366.5 287.2,366.5 287.6,366.5 288.0,366.5 288.4,366.5 288.8,366.5 289.2,366.5 289.6,366.5 290.0,366.5 290.4,366.5 290.8,366.5 291.2,366.5 291.6,366.5 292.0,366.5 292.4,366.5 292.8,366.5 293.2,366.5 293.6,366.5 294.0,366.5 294.4,366.5 294.8,366.5 295.2,366.5 295.6,366.5 296.0,366.5 296.4,366.5 296.8,366.5 297.2,366.5 297.6,366.5 298.0,366.5 298.4,366.5 298.8,366.5 299.2,366.5 299.6,366.5 300.0,366.5 300.4,366.5 300.8,366.5 301.2,366.5 301.6,366.5 302.0,366.5 302.4,366.5 302.8,366.5 303.2,366.5 303.6,366.5 304.0,366.5 304.4,366.5 304.8,366.5 305.2,366.5 305.6,366.5 306.0,366.5 306.4,366.5 306.8,366.5 307.2,366.5 307.6,366.5 308.0,366.5 308.4,366.5 308.8,366.5 309.2,366.5 309.6,366.5 310.0,366.5 310.4,366.5 310.8,366.5 311.2,366.5 311.6,366.5 312.0,366.5 312.4,366.5 312.8,366.5 313.2,366.5 313.6,366.5 314.0,366.5 314.4,366.5 314.8,366.5 315.2,366.5 315.6,366.5 316.0,366.5 316.4,366.5 316.8,366.5 317.2,366.5 317.6,366.5 318.0,366.5 318.2,366.5 318.4,366.5 318.8,366.5 319.2,366.5 319.6,366.5 320.0,366.5 320.4,366.5 320.8,366.5 321.2,366.5 321.6,366.5 322.0,366.5 322.4,366.5 322.8,366.5 323.2,366.5 323.6,366.5 324.0,366.5 324.4,366.5 324.8,366.5 325.2,366.5 325.6,366.5 326.0,366.5 326.4,366.5 326.8,366.5 327.2,366.5 327.6,366.5 328.0,366.5 328.4,366.5 328.8,366.5 329.2,366.5 329.6,366.5 330.0,366.5 330.4,366.5 330.8,366.5 331.2,366.5 331.6,366.5 332.0,366.5 332.4,366.5 332.8,366.5 333.2,366.5 333.6,366.5 334.0,366.5 334.4,366.5 334.8,366.5 335.2,366.5 335.6,366.5 336.0,366.5 336.4,366.5 336.8,366.5 337.2,366.5 337.6,366.5 338.0,366.5 338.4,366.5 338.8,366.5 339.2,366.5 339.6,366.5 340.0,366.5 340.4,366.5 340.8,366.5 341.2,366.5 341.6,366.5 342.0,366.5 342.4,366.5 342.8,366.5 343.2,366.5 343.6,366.5 344.0,366.5 344.4,366.5 344.8,366.5 345.2,366.5 345.6,366.5 346.0,366.5 346.4,366.5 346.8,366.5 347.2,366.5 347.6,366.5 348.0,366.5 348.4,366.5 348.8,366.5 349.2,366.5 349.6,366.5 350.0,366.5 350.4,366.5 350.8,366.5 351.2,366.5 351.6,366.5 352.0,366.5 352.4,366.5 352.8,366.5 353.2,366.5 353.6,366.5 354.0,366.5 354.4,366.5 354.8,366.5 355.2,366.5 355.6,366.5 356.0,366.5 356.4,366.5 356.8,366.5 357.2,366.5 357.6,366.5 358.0,366.5 358.4,366.5 358.8,366.5 359.2,366.5 359.6,366.5 360.0,366.5 360.4,366.5 360.8,366.5 361.2,366.5 361.6,366.5 362.0,366.5 362.4,366.5 362.8,366.5 363.2,366.5 363.6,366.5 364.0,366.5 364.4,366.5 364.8,366.5 365.2,366.5 365.6,366.5 366.0,366.5 366.4,366.5 366.8,366.5 367.2,366.5 367.6,366.5 368.0,366.5 368.4,366.5 368.8,366.5 369.2,366.5 369.6,366.5 370.0,366.5 370.4,366.5 370.8,366.5 371.2,366.5 371.6,366.5 372.0,366.5 372.4,366.5 372.8,366.5 373.2,366.5 373.6,366.5 374.0,366.5 374.4,366.5 374.8,366.5 375.2,366.5 375.6,366.5 376.0,366.5 376.4,366.5 376.8,366.5 377.2,366.5 377.6,366.5 378.0,366.5 378.2,366.5 378.4,366.5 378.8,366.5 379.2,366.5 379.6,366.5 380.0,366.5 380.4,366.5 380.8,366.5 381.2,366.5 381.6,366.5 382.0,366.5 382.4,366.5 382.8,366.5 383.2,366.5 383.6,366.5 384.0,366.5 384.4,366.5 384.8,366.5 385.2,366.4 385.6,366.4 386.0,366.4 386.4,366.4 386.8,366.4 387.2,366.4 387.6,366.4 388.0,366.4 388.4,366.4 388.8,366.4 389.2,366.3 389.6,366.3 390.0,366.3 390.2,366.3 390.4,366.3 390.8,366.1 391.2,365.8 391.6,365.5 392.0,365.3 392.2,365.3 392.4,365.3 392.8,365.5 393.2,365.8 393.6,366.0 393.7,366.0 394.0,365.7 394.4,364.9 394.8,363.9 395.2,363.5 395.2,363.5 395.6,363.9 396.0,364.6 396.4,365.0 396.4,365.0 396.8,363.1 397.2,360.7 397.3,360.5 397.6,361.4 398.0,363.6 398.2,364.0 398.4,363.3 398.8,359.2 398.9,358.0 399.2,353.1 399.6,344.2 399.9,338.0 400.0,336.2 400.4,328.7 400.8,322.9 400.9,322.0 401.2,320.0 401.6,318.1 401.8,317.8 402.0,318.1 402.4,320.0 402.7,322.0 402.8,322.7 403.2,326.9 403.6,332.2 403.9,336.0 404.0,337.2 404.4,342.3 404.8,347.4 405.2,352.0 405.2,352.0 405.6,356.5 406.0,360.8 406.4,363.6 406.5,364.0 406.8,364.7 407.2,365.5 407.6,365.9 407.8,366.0" fill="none" stroke="#D55E00" stroke-width="1.55" stroke-linejoin="round" />
<path d="M60.4,360.2 60.8,360.7 61.2,361.1 61.5,361.5 61.6,361.6 62.0,362.2 62.4,362.9 62.8,363.5 63.2,363.9 63.5,364.0 63.6,364.0 64.0,363.8 64.4,363.4 64.8,362.9 65.2,362.4 65.5,362.0 65.6,361.9 66.0,361.3 66.4,360.6 66.8,359.9 67.2,359.4 67.6,359.0 67.8,359.0 68.0,359.1 68.4,359.7 68.8,360.6 69.0,361.0 69.2,361.5 69.6,363.1 70.0,364.5 70.3,365.0 70.4,365.1 70.8,365.3 71.2,365.4 71.6,365.5 71.8,365.5 72.0,365.5 72.4,365.1 72.8,364.8 73.2,364.5 73.3,364.5 73.6,364.6 74.0,365.1 74.4,365.6 74.8,365.8 74.8,365.8 75.2,365.6 75.6,365.2 76.0,364.7 76.4,364.5 76.4,364.5 76.8,364.7 77.2,365.1 77.6,365.7 78.0,366.0 78.0,366.0 78.4,366.2 78.8,366.4 79.2,366.5 79.4,366.5 79.6,366.5 80.0,366.3 80.4,366.1 80.8,365.8 81.2,365.6 81.3,365.5 81.6,365.3 82.0,365.1 82.4,364.8 82.8,364.6 83.2,364.3 83.6,364.1 84.0,363.9 84.4,363.8 84.8,363.7 85.0,363.7 85.2,363.7 85.6,363.7 86.0,363.8 86.4,363.8 86.8,363.9 87.2,364.0 87.6,364.1 88.0,364.2 88.4,364.3 88.8,364.4 89.0,364.5 89.2,364.6 89.6,364.8 90.0,365.1 90.4,365.4 90.8,365.7 91.2,366.1 91.6,366.3 92.0,366.5 92.3,366.5 92.4,366.5 92.8,366.3 93.2,365.9 93.6,365.4 94.0,365.0 94.0,365.0 94.4,364.6 94.8,364.0 95.2,363.5 95.6,363.1 96.0,363.0 96.0,363.0 96.4,363.4 96.8,364.4 97.2,365.4 97.6,366.2 97.8,366.3 98.0,366.2 98.4,365.8 98.8,365.0 99.2,364.0 99.5,363.0 99.6,362.6 100.0,359.4 100.4,354.8 100.8,350.0 100.8,350.0 101.2,344.9 101.6,339.5 102.0,335.0 102.0,335.0 102.4,331.1 102.8,327.7 103.2,326.3 103.2,326.3 103.6,327.7 104.0,331.0 104.4,335.0 104.4,335.0 104.8,340.1 105.2,346.4 105.6,352.0 105.6,352.0 106.0,356.7 106.4,361.2 106.8,364.3 107.0,365.0 107.2,365.3 107.6,365.9 108.0,366.3 108.4,366.5 108.5,366.5 108.8,366.5 109.2,366.5 109.6,366.5 110.0,366.5 110.4,366.5 110.8,366.5 111.2,366.5 111.6,366.5 112.0,366.5 112.0,366.5 112.4,366.5 112.8,366.5 113.2,366.5 113.6,366.5 114.0,366.5 114.4,366.5 114.8,366.5 115.2,366.5 115.6,366.4 116.0,366.4 116.4,366.4 116.8,366.4 117.2,366.4 117.6,366.3 118.0,366.3 118.0,366.3 118.4,366.2 118.8,365.9 119.2,365.4 119.5,365.0 119.6,364.8 120.0,363.5 120.4,361.5 120.8,359.7 121.0,359.0 121.2,358.4 121.6,357.1 122.0,356.1 122.4,355.7 122.4,355.7 122.8,356.1 123.2,357.1 123.6,358.4 123.8,359.0 124.0,359.7 124.4,361.5 124.8,363.6 125.2,365.3 125.6,366.3 125.7,366.3 126.0,365.9 126.4,364.5 126.8,362.3 127.0,361.0 127.2,359.0 127.6,351.4 128.0,340.8 128.4,329.3 128.8,318.8 128.9,316.6 129.2,310.4 129.6,302.5 130.0,295.0 130.0,295.0 130.4,287.8 130.8,280.8 131.2,274.5 131.3,273.0 131.6,268.7 132.0,263.4 132.4,258.9 132.5,258.0 132.8,255.4 133.2,252.4 133.6,250.3 133.7,250.0 134.0,249.2 134.4,248.3 134.8,247.8 134.9,247.8 135.2,247.9 135.6,248.4 136.0,249.1 136.4,249.8 136.5,250.0 136.8,250.7 137.2,251.8 137.6,253.0 138.0,254.4 138.4,255.7 138.5,256.0 138.8,256.9 139.2,258.3 139.6,259.6 140.0,260.8 140.4,261.8 140.5,262.0 140.8,262.5 141.2,263.2 141.6,263.8 142.0,264.2 142.2,264.2 142.4,264.2 142.8,264.0 143.2,263.7 143.6,263.4 144.0,263.0 144.0,263.0 144.4,262.5 144.8,261.7 145.2,260.8 145.6,259.8 146.0,258.7 146.4,257.6 146.8,256.5 147.0,256.0 147.2,255.5 147.6,254.4 148.0,253.3 148.4,252.2 148.8,251.0 149.2,249.9 149.6,248.9 150.0,248.0 150.0,248.0 150.4,247.1 150.8,246.3 151.2,245.5 151.6,244.7 152.0,244.0 152.4,243.4 152.8,242.8 153.0,242.5 153.2,242.2 153.6,241.7 154.0,241.2 154.4,240.8 154.8,240.4 155.2,240.0 155.6,239.7 156.0,239.5 156.0,239.5 156.4,239.3 156.8,239.1 157.2,239.0 157.6,238.8 158.0,238.7 158.4,238.6 158.8,238.6 159.0,238.6 159.2,238.6 159.6,238.6 160.0,238.7 160.4,238.8 160.8,238.9 161.2,239.0 161.6,239.2 162.0,239.3 162.0,239.3 162.4,239.5 162.8,239.7 163.2,240.0 163.6,240.3 164.0,240.6 164.4,241.0 164.8,241.3 165.2,241.7 165.6,242.1 166.0,242.5 166.0,242.5 166.4,242.9 166.8,243.3 167.2,243.7 167.6,244.2 168.0,244.6 168.4,245.1 168.8,245.6 169.2,246.1 169.6,246.5 170.0,247.0 170.0,247.0 170.4,247.5 170.8,248.0 171.2,248.4 171.6,248.9 172.0,249.4 172.4,249.9 172.8,250.4 173.2,250.9 173.6,251.4 173.6,251.4 174.0,251.9 174.4,252.4 174.8,252.9 175.2,253.3 175.6,253.8 176.0,254.3 176.4,254.8 176.8,255.3 177.0,255.5 177.2,255.7 177.6,256.2 178.0,256.7 178.4,257.2 178.8,257.7 179.2,258.2 179.6,258.6 180.0,258.9 180.0,258.9 180.4,259.2 180.8,259.4 181.2,259.7 181.6,259.9 182.0,260.1 182.4,260.3 182.8,260.5 183.0,260.6 183.2,260.7 183.6,260.9 184.0,261.1 184.4,261.3 184.8,261.4 185.2,261.6 185.6,261.8 185.9,261.9 186.0,261.9 186.4,262.1 186.8,262.3 187.2,262.4 187.6,262.6 188.0,262.8 188.4,262.9 188.8,263.0 189.2,263.2 189.6,263.3 189.8,263.3 190.0,263.3 190.4,263.4 190.8,263.5 191.2,263.6 191.6,263.6 192.0,263.7 192.4,263.7 192.8,263.8 193.2,263.8 193.6,263.8 193.7,263.8 194.0,263.8 194.4,263.8 194.8,263.7 195.2,263.6 195.6,263.6 196.0,263.5 196.0,263.5 196.4,263.4 196.8,263.3 197.2,263.2 197.6,263.0 198.0,262.8 198.1,262.8 198.4,262.6 198.8,262.3 199.2,261.9 199.6,261.4 200.0,260.9 200.4,260.3 200.8,259.8 201.1,259.4 201.2,259.3 201.6,258.7 202.0,258.1 202.4,257.4 202.8,256.8 203.2,256.1 203.6,255.4 204.0,254.8 204.4,254.1 204.5,254.0 204.8,253.6 205.2,252.9 205.6,252.3 206.0,251.7 206.4,251.1 206.8,250.6 207.2,250.0 207.6,249.5 208.0,249.0 208.4,248.6 208.4,248.6 208.8,248.2 209.2,247.8 209.6,247.5 210.0,247.1 210.4,246.8 210.8,246.5 211.2,246.2 211.6,246.0 212.0,245.7 212.4,245.5 212.4,245.5 212.8,245.3 213.2,245.1 213.6,244.9 214.0,244.8 214.4,244.6 214.8,244.5 215.2,244.3 215.6,244.2 216.0,244.1 216.3,244.0 216.4,244.0 216.8,243.9 217.2,243.8 217.6,243.7 218.0,243.6 218.4,243.5 218.8,243.4 219.2,243.3 219.2,243.3 219.6,243.2 220.0,243.1 220.4,243.1 220.8,243.0 221.2,242.9 221.6,242.8 222.0,242.8 222.4,242.7 222.8,242.6 223.2,242.6 223.6,242.5 224.0,242.4 224.4,242.4 224.8,242.3 225.2,242.3 225.6,242.2 226.0,242.2 226.0,242.2 226.4,242.2 226.8,242.1 227.2,242.1 227.6,242.0 228.0,242.0 228.4,242.0 228.8,241.9 229.2,241.9 229.6,241.8 230.0,241.8 230.4,241.8 230.8,241.7 231.2,241.7 231.6,241.7 232.0,241.7 232.4,241.6 232.8,241.6 233.2,241.6 233.6,241.6 234.0,241.6 234.1,241.6 234.4,241.6 234.8,241.6 235.2,241.6 235.6,241.6 236.0,241.6 236.4,241.7 236.8,241.7 237.2,241.7 237.6,241.8 238.0,241.8 238.4,241.8 238.8,241.9 239.2,241.9 239.6,241.9 240.0,242.0 240.4,242.0 240.8,242.1 241.2,242.1 241.6,242.1 242.0,242.2 242.2,242.2 242.4,242.2 242.8,242.3 243.2,242.3 243.6,242.4 244.0,242.4 244.4,242.5 244.8,242.5 245.2,242.6 245.6,242.7 246.0,242.7 246.4,242.8 246.8,242.9 247.2,243.0 247.6,243.0 248.0,243.1 248.4,243.2 248.8,243.3 249.0,243.3 249.2,243.3 249.6,243.4 250.0,243.5 250.4,243.6 250.8,243.7 251.2,243.8 251.6,243.9 251.9,244.0 252.0,244.0 252.4,244.2 252.8,244.3 253.2,244.4 253.6,244.6 254.0,244.7 254.4,244.9 254.8,245.0 255.2,245.2 255.6,245.4 255.8,245.5 256.0,245.6 256.4,245.8 256.8,246.1 257.2,246.4 257.6,246.7 258.0,247.0 258.4,247.3 258.8,247.7 259.2,248.0 259.6,248.4 259.8,248.6 260.0,248.8 260.4,249.3 260.8,249.8 261.2,250.3 261.6,250.8 262.0,251.4 262.4,252.0 262.8,252.6 263.2,253.2 263.6,253.9 263.7,254.0 264.0,254.5 264.4,255.1 264.8,255.8 265.2,256.4 265.6,257.1 266.0,257.8 266.4,258.4 266.8,259.0 267.1,259.4 267.2,259.5 267.6,260.1 268.0,260.6 268.4,261.2 268.8,261.7 269.2,262.1 269.6,262.5 270.0,262.7 270.1,262.8 270.4,262.9 270.8,263.1 271.2,263.2 271.6,263.4 272.0,263.5 272.2,263.5 272.4,263.5 272.8,263.6 273.2,263.7 273.6,263.7 274.0,263.8 274.4,263.8 274.5,263.8 274.8,263.8 275.2,263.8 275.6,263.7 276.0,263.7 276.4,263.6 276.8,263.6 277.2,263.5 277.6,263.4 278.0,263.4 278.4,263.3 278.4,263.3 278.8,263.2 279.2,263.1 279.6,263.0 280.0,262.8 280.4,262.7 280.8,262.5 281.2,262.4 281.6,262.2 282.0,262.0 282.3,261.9 282.4,261.9 282.8,261.7 283.2,261.5 283.6,261.4 284.0,261.2 284.4,261.0 284.8,260.8 285.2,260.6 285.2,260.6 285.6,260.4 286.0,260.2 286.4,260.0 286.8,259.8 287.2,259.6 287.6,259.3 288.0,259.0 288.2,258.9 288.4,258.7 288.8,258.4 289.2,257.9 289.6,257.5 290.0,257.0 290.4,256.5 290.8,256.0 291.2,255.5 291.2,255.5 291.6,255.0 292.0,254.6 292.4,254.1 292.8,253.6 293.2,253.1 293.6,252.6 294.0,252.1 294.4,251.6 294.6,251.4 294.8,251.2 295.2,250.7 295.6,250.2 296.0,249.7 296.4,249.2 296.8,248.7 297.2,248.2 297.6,247.7 298.0,247.2 298.2,247.0 298.4,246.8 298.8,246.3 299.2,245.8 299.6,245.3 300.0,244.9 300.4,244.4 300.8,243.9 301.2,243.5 301.6,243.1 302.0,242.7 302.2,242.5 302.4,242.3 302.8,241.9 303.2,241.5 303.6,241.2 304.0,240.8 304.4,240.4 304.8,240.1 305.2,239.8 305.6,239.6 306.0,239.4 306.2,239.3 306.4,239.2 306.8,239.1 307.2,239.0 307.6,238.8 308.0,238.7 308.4,238.7 308.8,238.6 309.2,238.6 309.2,238.6 309.6,238.6 310.0,238.7 310.4,238.8 310.8,238.9 311.2,239.1 311.6,239.2 312.0,239.4 312.2,239.5 312.4,239.6 312.8,239.9 313.2,240.2 313.6,240.6 314.0,241.0 314.4,241.5 314.8,242.0 315.2,242.5 315.2,242.5 315.6,243.1 316.0,243.7 316.4,244.4 316.8,245.1 317.2,245.9 317.6,246.7 318.0,247.6 318.2,248.0 318.4,248.4 318.8,249.4 319.2,250.5 319.6,251.6 320.0,252.7 320.4,253.9 320.8,255.0 321.2,256.0 321.2,256.0 321.6,257.0 322.0,258.1 322.4,259.3 322.8,260.3 323.2,261.3 323.6,262.1 324.0,262.8 324.2,263.0 324.4,263.2 324.8,263.6 325.2,263.9 325.6,264.1 326.0,264.2 326.0,264.2 326.4,264.0 326.8,263.6 327.2,262.9 327.6,262.2 327.7,262.0 328.0,261.4 328.4,260.3 328.8,259.0 329.2,257.6 329.6,256.3 329.7,256.0 330.0,255.1 330.4,253.7 330.8,252.4 331.2,251.2 331.6,250.2 331.7,250.0 332.0,249.4 332.4,248.7 332.8,248.1 333.2,247.8 333.3,247.8 333.6,248.0 334.0,248.7 334.4,249.7 334.5,250.0 334.8,251.2 335.2,253.9 335.6,257.1 335.7,258.0 336.0,261.0 336.4,266.0 336.8,271.6 336.9,273.0 337.2,277.6 337.6,284.2 338.0,291.4 338.2,295.0 338.4,298.7 338.8,306.4 339.2,314.5 339.3,316.6 339.6,323.8 340.0,335.1 340.4,346.4 340.8,355.7 341.2,361.0 341.2,361.0 341.6,363.5 342.0,365.3 342.4,366.3 342.5,366.3 342.8,365.9 343.2,364.5 343.6,362.6 344.0,360.6 344.4,359.0 344.4,359.0 344.8,357.8 345.2,356.6 345.6,355.8 345.8,355.7 346.0,355.8 346.4,356.6 346.8,357.7 347.2,359.0 347.2,359.0 347.6,360.6 348.0,362.5 348.4,364.2 348.7,365.0 348.8,365.1 349.2,365.6 349.6,366.0 350.0,366.3 350.2,366.3 350.4,366.3 350.8,366.3 351.2,366.4 351.6,366.4 352.0,366.4 352.4,366.4 352.8,366.4 353.2,366.5 353.6,366.5 354.0,366.5 354.4,366.5 354.8,366.5 355.2,366.5 355.6,366.5 356.0,366.5 356.2,366.5 356.4,366.5 356.8,366.5 357.2,366.5 357.6,366.5 358.0,366.5 358.4,366.5 358.8,366.5 359.2,366.5 359.6,366.5 359.7,366.5 360.0,366.4 360.4,366.1 360.8,365.7 361.2,365.0 361.2,365.0 361.6,363.0 362.0,359.1 362.4,354.3 362.6,352.0 362.8,349.4 363.2,343.2 363.6,337.3 363.8,335.0 364.0,333.0 364.4,329.2 364.8,326.7 365.0,326.3 365.2,326.7 365.6,329.3 366.0,333.1 366.2,335.0 366.4,337.1 366.8,342.2 367.2,347.6 367.4,350.0 367.6,352.3 368.0,357.2 368.4,361.2 368.7,363.0 368.8,363.3 369.2,364.5 369.6,365.5 370.0,366.1 370.4,366.3 370.4,366.3 370.8,365.9 371.2,364.9 371.6,363.9 372.0,363.1 372.2,363.0 372.4,363.0 372.8,363.3 373.2,363.8 373.6,364.3 374.0,364.8 374.2,365.0 374.4,365.2 374.8,365.7 375.2,366.1 375.6,366.4 375.9,366.5 376.0,366.5 376.4,366.4 376.8,366.2 377.2,365.9 377.6,365.6 378.0,365.2 378.4,364.9 378.8,364.7 379.2,364.5 379.2,364.5 379.6,364.4 380.0,364.3 380.4,364.1 380.8,364.0 381.2,363.9 381.6,363.9 382.0,363.8 382.4,363.7 382.8,363.7 383.2,363.7 383.2,363.7 383.6,363.7 384.0,363.8 384.4,364.0 384.8,364.2 385.2,364.5 385.6,364.7 386.0,365.0 386.4,365.2 386.8,365.4 386.9,365.5 387.2,365.7 387.6,365.9 388.0,366.2 388.4,366.4 388.8,366.5 388.8,366.5 389.2,366.4 389.6,366.3 390.0,366.1 390.2,366.0 390.4,365.9 390.8,365.4 391.2,364.9 391.6,364.6 391.8,364.5 392.0,364.6 392.4,364.9 392.8,365.4 393.2,365.7 393.4,365.8 393.6,365.7 394.0,365.3 394.4,364.8 394.8,364.5 394.9,364.5 395.2,364.6 395.6,365.0 396.0,365.3 396.4,365.5 396.4,365.5 396.8,365.5 397.2,365.3 397.6,365.2 397.9,365.0 398.0,364.9 398.4,363.8 398.8,362.3 399.2,361.0 399.2,361.0 399.6,360.1 400.0,359.3 400.4,359.0 400.4,359.0 400.8,359.2 401.2,359.6 401.6,360.3 402.0,361.0 402.4,361.6 402.7,362.0 402.8,362.1 403.2,362.6 403.6,363.2 404.0,363.6 404.4,363.9 404.7,364.0 404.8,364.0 405.2,363.7 405.6,363.2 406.0,362.6 406.4,361.9 406.7,361.5 406.8,361.4 407.2,360.9 407.6,360.4 407.8,360.2" fill="none" stroke="#009E73" stroke-width="1.55" stroke-linejoin="round" />
<path d="M60.4,366.4 60.8,366.4 61.2,366.4 61.6,366.4 62.0,366.4 62.4,366.4 62.8,366.4 63.2,366.4 63.6,366.4 64.0,366.4 64.4,366.4 64.8,366.4 65.2,366.4 65.6,366.4 66.0,366.4 66.4,366.4 66.8,366.5 67.2,366.5 67.6,366.5 68.0,366.5 68.4,366.5 68.8,366.5 69.2,366.5 69.6,366.5 70.0,366.5 70.4,366.5 70.8,366.5 71.2,366.5 71.6,366.5 72.0,366.5 72.4,366.5 72.8,366.5 73.2,366.5 73.6,366.5 74.0,366.5 74.4,366.5 74.8,366.5 75.2,366.5 75.6,366.5 76.0,366.5 76.4,366.5 76.8,366.5 77.2,366.5 77.6,366.5 78.0,366.5 78.4,366.5 78.8,366.5 79.2,366.5 79.6,366.5 80.0,366.5 80.4,366.5 80.8,366.5 81.2,366.5 81.6,366.5 82.0,366.5 82.4,366.5 82.8,366.5 83.2,366.5 83.6,366.5 84.0,366.5 84.4,366.5 84.8,366.5 85.2,366.5 85.6,366.5 86.0,366.5 86.4,366.5 86.8,366.5 87.2,366.5 87.6,366.5 88.0,366.5 88.4,366.5 88.8,366.5 89.2,366.5 89.6,366.5 90.0,366.5 90.0,366.5 90.4,366.5 90.8,366.5 91.2,366.5 91.6,366.5 92.0,366.5 92.4,366.5 92.8,366.5 93.2,366.5 93.6,366.5 94.0,366.5 94.4,366.5 94.8,366.4 95.2,366.4 95.6,366.4 96.0,366.4 96.0,366.4 96.4,366.2 96.8,365.5 97.2,364.5 97.2,364.5 97.6,361.1 98.0,355.1 98.2,352.0 98.4,348.7 98.8,341.1 99.2,333.0 99.2,333.0 99.6,324.6 100.0,316.0 100.2,312.0 100.4,308.2 100.8,301.2 101.2,293.9 101.3,292.0 101.6,285.7 102.0,277.0 102.0,277.0 102.4,268.7 102.8,261.4 102.8,261.4 103.2,255.8 103.5,252.5 103.6,251.6 104.0,248.5 104.3,247.0 104.4,246.7 104.8,245.5 105.2,244.7 105.5,244.3 105.6,244.2 106.0,243.8 106.4,243.4 106.8,243.1 107.2,242.9 107.5,242.8 107.6,242.8 108.0,242.7 108.4,242.6 108.8,242.5 109.2,242.4 109.6,242.4 110.0,242.3 110.4,242.3 110.6,242.3 110.8,242.3 111.2,242.4 111.6,242.5 112.0,242.7 112.4,243.0 112.8,243.2 113.0,243.3 113.2,243.4 113.6,243.7 114.0,244.1 114.4,244.4 114.8,244.8 115.0,245.0 115.2,245.2 115.6,245.6 116.0,246.1 116.4,246.5 116.8,247.0 117.2,247.4 117.5,247.6 117.6,247.7 118.0,248.0 118.4,248.3 118.8,248.6 119.2,248.9 119.6,249.1 120.0,249.2 120.2,249.2 120.4,249.2 120.8,249.1 121.2,249.0 121.6,248.9 122.0,248.7 122.4,248.5 122.8,248.3 123.0,248.2 123.2,248.1 123.6,247.8 124.0,247.5 124.4,247.1 124.8,246.8 125.0,246.6 125.2,246.4 125.6,246.0 126.0,245.6 126.4,245.2 126.8,244.8 127.0,244.6 127.2,244.4 127.6,244.0 128.0,243.6 128.4,243.2 128.8,242.8 129.0,242.6 129.2,242.4 129.6,242.0 130.0,241.7 130.4,241.3 130.8,241.0 131.0,240.8 131.2,240.6 131.6,240.3 132.0,240.0 132.4,239.7 132.8,239.5 133.0,239.4 133.2,239.3 133.6,239.1 134.0,238.9 134.4,238.8 134.8,238.7 135.2,238.6 135.4,238.6 135.6,238.6 136.0,238.6 136.4,238.7 136.8,238.7 137.2,238.8 137.6,238.9 138.0,239.0 138.0,239.0 138.4,239.1 138.8,239.2 139.2,239.4 139.6,239.6 140.0,239.8 140.4,240.0 140.8,240.2 141.0,240.3 141.2,240.4 141.6,240.6 142.0,240.9 142.4,241.1 142.8,241.4 143.2,241.6 143.6,241.9 144.0,242.2 144.0,242.2 144.4,242.5 144.8,242.8 145.2,243.1 145.6,243.4 146.0,243.7 146.4,244.0 146.8,244.3 147.0,244.5 147.2,244.7 147.6,245.0 148.0,245.3 148.4,245.6 148.8,245.9 149.2,246.2 149.6,246.5 150.0,246.8 150.0,246.8 150.4,247.1 150.8,247.4 151.2,247.6 151.6,247.9 152.0,248.2 152.4,248.4 152.8,248.7 153.0,248.8 153.2,248.9 153.6,249.2 154.0,249.4 154.4,249.6 154.8,249.9 155.2,250.1 155.6,250.3 156.0,250.5 156.0,250.5 156.4,250.7 156.8,250.9 157.2,251.1 157.6,251.2 158.0,251.4 158.4,251.5 158.5,251.5 158.8,251.6 159.2,251.7 159.6,251.7 160.0,251.8 160.4,251.9 160.8,251.9 161.0,251.9 161.2,251.9 161.6,251.8 162.0,251.8 162.4,251.6 162.8,251.5 163.2,251.3 163.5,251.2 163.6,251.2 164.0,250.9 164.4,250.6 164.8,250.2 165.2,249.8 165.6,249.4 166.0,249.0 166.0,249.0 166.4,248.6 166.8,248.0 167.2,247.5 167.6,247.0 168.0,246.4 168.4,245.9 168.5,245.8 168.8,245.4 169.2,244.9 169.6,244.5 170.0,244.0 170.4,243.6 170.8,243.2 171.0,243.0 171.2,242.8 171.6,242.5 172.0,242.1 172.4,241.9 172.8,241.7 173.0,241.7 173.2,241.7 173.6,241.8 174.0,241.9 174.4,242.0 174.8,242.1 175.0,242.2 175.2,242.3 175.6,242.5 176.0,242.9 176.4,243.2 176.8,243.6 177.2,244.0 177.5,244.3 177.6,244.4 178.0,244.8 178.4,245.3 178.8,245.7 179.2,246.2 179.6,246.6 180.0,246.9 180.0,246.9 180.4,247.2 180.8,247.4 181.2,247.7 181.6,247.9 182.0,248.0 182.4,248.1 182.5,248.1 182.8,248.1 183.2,248.0 183.6,247.8 184.0,247.6 184.4,247.4 184.8,247.1 185.0,247.0 185.2,246.9 185.6,246.6 186.0,246.2 186.4,245.8 186.8,245.4 187.2,245.1 187.5,244.8 187.6,244.7 188.0,244.4 188.4,244.0 188.8,243.6 189.2,243.3 189.6,243.0 190.0,242.8 190.0,242.8 190.4,242.6 190.8,242.4 191.2,242.2 191.6,242.1 192.0,242.0 192.3,242.0 192.4,242.0 192.8,242.0 193.2,242.0 193.6,242.1 194.0,242.1 194.4,242.2 194.5,242.2 194.8,242.3 195.2,242.4 195.6,242.5 196.0,242.6 196.4,242.7 196.8,242.9 197.0,242.9 197.2,242.9 197.6,243.0 198.0,243.1 198.4,243.2 198.8,243.2 199.1,243.2 199.2,243.2 199.6,243.2 200.0,243.1 200.4,243.0 200.8,242.9 201.0,242.8 201.2,242.7 201.6,242.5 202.0,242.3 202.4,242.1 202.8,241.8 203.2,241.5 203.5,241.3 203.6,241.2 204.0,241.0 204.4,240.7 204.8,240.4 205.2,240.1 205.6,239.8 206.0,239.6 206.0,239.6 206.4,239.4 206.8,239.2 207.2,239.1 207.6,238.9 208.0,238.8 208.4,238.8 208.4,238.8 208.8,238.8 209.2,238.9 209.6,238.9 210.0,239.0 210.4,239.1 210.8,239.2 211.0,239.3 211.2,239.4 211.6,239.5 212.0,239.7 212.4,239.9 212.8,240.2 213.2,240.4 213.6,240.6 214.0,240.8 214.0,240.8 214.4,241.0 214.8,241.2 215.2,241.4 215.6,241.5 216.0,241.7 216.4,241.8 216.5,241.8 216.8,241.9 217.2,241.9 217.6,242.0 218.0,242.0 218.0,242.0 218.4,242.0 218.8,241.9 219.2,241.8 219.6,241.7 220.0,241.6 220.0,241.6 220.4,241.4 220.8,241.2 221.2,241.0 221.6,240.7 222.0,240.5 222.4,240.2 222.5,240.2 222.8,240.1 223.2,239.9 223.6,239.7 224.0,239.5 224.4,239.4 224.8,239.2 225.2,239.1 225.6,239.0 226.0,239.0 226.0,239.0 226.4,239.0 226.8,239.1 227.2,239.1 227.6,239.2 228.0,239.3 228.4,239.4 228.8,239.5 229.0,239.6 229.2,239.7 229.6,239.8 230.0,240.0 230.4,240.1 230.8,240.3 231.2,240.5 231.6,240.6 232.0,240.7 232.0,240.7 232.4,240.8 232.8,240.9 233.2,240.9 233.6,241.0 234.0,241.0 234.1,241.0 234.4,241.0 234.8,241.0 235.2,240.9 235.6,240.8 236.0,240.7 236.2,240.7 236.4,240.7 236.8,240.5 237.2,240.4 237.6,240.2 238.0,240.0 238.4,239.9 238.8,239.7 239.2,239.6 239.2,239.6 239.6,239.5 240.0,239.4 240.4,239.3 240.8,239.2 241.2,239.1 241.6,239.0 242.0,239.0 242.2,239.0 242.4,239.0 242.8,239.1 243.2,239.1 243.6,239.3 244.0,239.4 244.4,239.6 244.8,239.8 245.2,240.0 245.6,240.2 245.7,240.2 246.0,240.3 246.4,240.6 246.8,240.8 247.2,241.1 247.6,241.3 248.0,241.5 248.2,241.6 248.4,241.7 248.8,241.8 249.2,241.9 249.6,242.0 250.0,242.0 250.2,242.0 250.4,242.0 250.8,242.0 251.2,241.9 251.6,241.8 251.7,241.8 252.0,241.7 252.4,241.6 252.8,241.4 253.2,241.3 253.6,241.1 254.0,240.9 254.2,240.8 254.4,240.7 254.8,240.5 255.2,240.3 255.6,240.0 256.0,239.8 256.4,239.6 256.8,239.4 257.2,239.3 257.2,239.3 257.6,239.2 258.0,239.1 258.4,239.0 258.8,238.9 259.2,238.8 259.6,238.8 259.8,238.8 260.0,238.8 260.4,238.9 260.8,239.0 261.2,239.1 261.6,239.3 262.0,239.5 262.2,239.6 262.4,239.7 262.8,239.9 263.2,240.2 263.6,240.5 264.0,240.8 264.4,241.1 264.7,241.3 264.8,241.4 265.2,241.6 265.6,241.9 266.0,242.2 266.4,242.4 266.8,242.6 267.2,242.8 267.2,242.8 267.6,242.9 268.0,243.0 268.4,243.1 268.8,243.2 269.1,243.2 269.2,243.2 269.6,243.2 270.0,243.1 270.4,243.1 270.8,243.0 271.2,242.9 271.2,242.9 271.6,242.8 272.0,242.7 272.4,242.6 272.8,242.4 273.2,242.3 273.6,242.2 273.7,242.2 274.0,242.2 274.4,242.1 274.8,242.1 275.2,242.0 275.6,242.0 275.9,242.0 276.0,242.0 276.4,242.1 276.8,242.2 277.2,242.3 277.6,242.5 278.0,242.7 278.2,242.8 278.4,242.9 278.8,243.2 279.2,243.5 279.6,243.8 280.0,244.2 280.4,244.5 280.7,244.8 280.8,244.9 281.2,245.3 281.6,245.6 282.0,246.0 282.4,246.4 282.8,246.7 283.2,247.0 283.2,247.0 283.6,247.2 284.0,247.5 284.4,247.7 284.8,247.9 285.2,248.0 285.6,248.1 285.7,248.1 286.0,248.1 286.4,248.0 286.8,247.8 287.2,247.6 287.6,247.3 288.0,247.0 288.2,246.9 288.4,246.8 288.8,246.4 289.2,246.0 289.6,245.5 290.0,245.0 290.4,244.6 290.7,244.3 290.8,244.2 291.2,243.8 291.6,243.4 292.0,243.0 292.4,242.7 292.8,242.4 293.2,242.2 293.2,242.2 293.6,242.1 294.0,241.9 294.4,241.8 294.8,241.7 295.2,241.7 295.2,241.7 295.6,241.8 296.0,242.0 296.4,242.3 296.8,242.7 297.2,243.0 297.2,243.0 297.6,243.4 298.0,243.8 298.4,244.2 298.8,244.7 299.2,245.2 299.6,245.7 299.7,245.8 300.0,246.2 300.4,246.7 300.8,247.2 301.2,247.8 301.6,248.3 302.0,248.8 302.2,249.0 302.4,249.2 302.8,249.6 303.2,250.0 303.6,250.4 304.0,250.8 304.4,251.0 304.7,251.2 304.8,251.2 305.2,251.4 305.6,251.6 306.0,251.7 306.4,251.8 306.8,251.9 307.2,251.9 307.2,251.9 307.6,251.9 308.0,251.8 308.4,251.8 308.8,251.7 309.2,251.6 309.6,251.5 309.7,251.5 310.0,251.4 310.4,251.3 310.8,251.1 311.2,251.0 311.6,250.8 312.0,250.6 312.2,250.5 312.4,250.4 312.8,250.2 313.2,250.0 313.6,249.8 314.0,249.5 314.4,249.3 314.8,249.0 315.2,248.8 315.2,248.8 315.6,248.6 316.0,248.3 316.4,248.0 316.8,247.8 317.2,247.5 317.6,247.2 318.0,246.9 318.2,246.8 318.4,246.7 318.8,246.4 319.2,246.1 319.6,245.7 320.0,245.4 320.4,245.1 320.8,244.8 321.2,244.5 321.2,244.5 321.6,244.2 322.0,243.9 322.4,243.6 322.8,243.2 323.2,242.9 323.6,242.6 324.0,242.3 324.2,242.2 324.4,242.1 324.8,241.8 325.2,241.5 325.6,241.2 326.0,241.0 326.4,240.7 326.8,240.5 327.2,240.3 327.2,240.3 327.6,240.1 328.0,239.9 328.4,239.7 328.8,239.5 329.2,239.3 329.6,239.2 330.0,239.0 330.2,239.0 330.4,239.0 330.8,238.9 331.2,238.8 331.6,238.7 332.0,238.7 332.4,238.6 332.8,238.6 332.8,238.6 333.2,238.6 333.6,238.7 334.0,238.9 334.4,239.0 334.8,239.2 335.2,239.4 335.2,239.4 335.6,239.6 336.0,239.9 336.4,240.2 336.8,240.5 337.2,240.8 337.2,240.8 337.6,241.1 338.0,241.5 338.4,241.8 338.8,242.2 339.2,242.6 339.2,242.6 339.6,243.0 340.0,243.4 340.4,243.8 340.8,244.2 341.2,244.6 341.2,244.6 341.6,245.0 342.0,245.4 342.4,245.8 342.8,246.2 343.2,246.6 343.2,246.6 343.6,247.0 344.0,247.3 344.4,247.7 344.8,248.0 345.2,248.2 345.2,248.2 345.6,248.4 346.0,248.6 346.4,248.8 346.8,249.0 347.2,249.1 347.6,249.2 348.0,249.2 348.0,249.2 348.4,249.1 348.8,249.0 349.2,248.8 349.6,248.5 350.0,248.2 350.4,247.8 350.7,247.6 350.8,247.5 351.2,247.2 351.6,246.7 352.0,246.3 352.4,245.8 352.8,245.4 353.2,245.0 353.2,245.0 353.6,244.6 354.0,244.2 354.4,243.9 354.8,243.6 355.2,243.3 355.2,243.3 355.6,243.1 356.0,242.8 356.4,242.6 356.8,242.5 357.2,242.3 357.6,242.3 357.6,242.3 358.0,242.3 358.4,242.3 358.8,242.4 359.2,242.5 359.6,242.5 360.0,242.6 360.4,242.7 360.7,242.8 360.8,242.8 361.2,243.0 361.6,243.3 362.0,243.6 362.4,244.0 362.7,244.3 362.8,244.4 363.2,245.1 363.6,246.1 363.9,247.0 364.0,247.4 364.4,250.0 364.7,252.5 364.8,253.5 365.2,258.4 365.4,261.4 365.6,264.8 366.0,272.8 366.2,277.0 366.4,281.3 366.8,290.0 366.9,292.0 367.2,297.6 367.6,304.7 368.0,312.0 368.0,312.0 368.4,320.3 368.8,328.9 369.0,333.0 369.2,337.0 369.6,345.1 370.0,352.0 370.0,352.0 370.4,358.3 370.8,363.3 371.0,364.5 371.2,365.0 371.6,365.9 372.0,366.3 372.2,366.4 372.4,366.4 372.8,366.4 373.2,366.4 373.6,366.4 374.0,366.5 374.4,366.5 374.8,366.5 375.2,366.5 375.6,366.5 376.0,366.5 376.4,366.5 376.8,366.5 377.2,366.5 377.6,366.5 378.0,366.5 378.2,366.5 378.4,366.5 378.8,366.5 379.2,366.5 379.6,366.5 380.0,366.5 380.4,366.5 380.8,366.5 381.2,366.5 381.6,366.5 382.0,366.5 382.4,366.5 382.8,366.5 383.2,366.5 383.6,366.5 384.0,366.5 384.4,366.5 384.8,366.5 385.2,366.5 385.6,366.5 386.0,366.5 386.4,366.5 386.8,366.5 387.2,366.5 387.6,366.5 388.0,366.5 388.4,366.5 388.8,366.5 389.2,366.5 389.6,366.5 390.0,366.5 390.4,366.5 390.8,366.5 391.2,366.5 391.6,366.5 392.0,366.5 392.4,366.5 392.8,366.5 393.2,366.5 393.6,366.5 394.0,366.5 394.4,366.5 394.8,366.5 395.2,366.5 395.6,366.5 396.0,366.5 396.4,366.5 396.8,366.5 397.2,366.5 397.6,366.5 398.0,366.5 398.4,366.5 398.8,366.5 399.2,366.5 399.6,366.5 400.0,366.5 400.4,366.5 400.8,366.5 401.2,366.5 401.6,366.5 402.0,366.4 402.4,366.4 402.8,366.4 403.2,366.4 403.6,366.4 404.0,366.4 404.4,366.4 404.8,366.4 405.2,366.4 405.6,366.4 406.0,366.4 406.4,366.4 406.8,366.4 407.2,366.4 407.6,366.4 407.8,366.4" fill="none" stroke="#CC79A7" stroke-width="1.55" stroke-linejoin="round" />
</g>
<rect x="60.45" y="225.0" width="346.85" height="141.89999999999998" fill="none" stroke="#222" stroke-width="0.95"/>
<text x="48.6" y="371.1" style="font-family:&quot;Liberation Serif&quot;,serif;font-size:13.1px">0</text>
<text x="38.1" y="335.6" style="font-family:&quot;Liberation Serif&quot;,serif;font-size:13.1px" textLength="16.8" lengthAdjust="spacing">0.2</text>
<text x="38.1" y="300.1" style="font-family:&quot;Liberation Serif&quot;,serif;font-size:13.1px" textLength="16.8" lengthAdjust="spacing">0.4</text>
<text x="38.1" y="264.7" style="font-family:&quot;Liberation Serif&quot;,serif;font-size:13.1px" textLength="16.8" lengthAdjust="spacing">0.6</text>
<text x="38.1" y="229.2" style="font-family:&quot;Liberation Serif&quot;,serif;font-size:13.1px" textLength="16.8" lengthAdjust="spacing">0.8</text>
<line x1="78.8" y1="377.3" x2="86.1" y2="377.3" stroke="#111" stroke-width="0.8"/>
<text x="88.0" y="380.6" style="font-family:&quot;Liberation Serif&quot;,serif;font-size:13.1px">50</text>
<line x1="151.1" y1="377.3" x2="158.4" y2="377.3" stroke="#111" stroke-width="0.8"/>
<text x="160.3" y="380.6" style="font-family:&quot;Liberation Serif&quot;,serif;font-size:13.1px">25</text>
<text x="234.2" y="380.6" text-anchor="middle" style="font-family:&quot;Liberation Serif&quot;,serif;font-size:13.1px">0</text>
<text x="306.5" y="380.6" text-anchor="middle" style="font-family:&quot;Liberation Serif&quot;,serif;font-size:13.1px">25</text>
<text x="378.8" y="380.6" text-anchor="middle" style="font-family:&quot;Liberation Serif&quot;,serif;font-size:13.1px">50</text>
<text x="183.2" y="401.3" style="font-family:&quot;Liberation Serif&quot;,serif;font-size:13.7px">Δ</text>
<text x="192.9" y="401.3" style="font-family:&quot;Liberation Serif&quot;,serif;font-size:13.7px;font-style:italic">ω</text>
<text x="202.6" y="405.8" style="font-family:&quot;Liberation Serif&quot;,serif;font-size:10.2px" textLength="6.4" lengthAdjust="spacingAndGlyphs">S</text>
<line x1="211.3" y1="404.6" x2="217.7" y2="390.5" stroke="#111" stroke-width="0.8"/>
<text x="219.4" y="401.3" style="font-family:&quot;Liberation Serif&quot;,serif;font-size:13.7px">(2</text>
<text x="230.6" y="401.3" style="font-family:&quot;Liberation Serif&quot;,serif;font-size:13.7px;font-style:italic">π</text>
<text x="239" y="401.3" style="font-family:&quot;Liberation Serif&quot;,serif;font-size:13.7px">)</text>
<text x="247.8" y="401.3" style="font-family:&quot;Liberation Serif&quot;,serif;font-size:13.7px" textLength="37.6" lengthAdjust="spacingAndGlyphs">(MHz)</text>
<g transform="translate(0,311.15) rotate(-90)"><line x1="0.5" y1="6.2" x2="0.5" y2="22.8" stroke="#111" stroke-width="0.8"/><line x1="29.8" y1="6.2" x2="29.8" y2="22.8" stroke="#111" stroke-width="0.8"/><polyline points="8.0,6.3 3.9,14.3 8.0,22.1" fill="none" stroke="#111" stroke-width="0.8"/><polyline points="21.6,6.3 25.9,14.3 21.6,22.1" fill="none" stroke="#111" stroke-width="0.8"/><text x="9.7" y="17.6" style="font-family:&quot;Liberation Serif&quot;,serif;font-size:13.8px">I</text><polyline points="10.5,7.0 12.1,4.9 13.8,7.0" fill="none" stroke="#111" stroke-width="0.8"/><text x="15.2" y="21.4" style="font-family:&quot;Liberation Serif&quot;,serif;font-size:9.8px;font-weight:bold;font-style:italic">z</text></g>
<line x1="60.45" y1="579.9" x2="60.45" y2="572.9" stroke="#7d7d7d" stroke-width="0.55"/><line x1="60.45" y1="438.2" x2="60.45" y2="445.2" stroke="#7d7d7d" stroke-width="0.55"/><line x1="137.65" y1="579.9" x2="137.65" y2="572.9" stroke="#7d7d7d" stroke-width="0.55"/><line x1="137.65" y1="438.2" x2="137.65" y2="445.2" stroke="#7d7d7d" stroke-width="0.55"/><line x1="214.85000000000002" y1="579.9" x2="214.85000000000002" y2="572.9" stroke="#7d7d7d" stroke-width="0.55"/><line x1="214.85000000000002" y1="438.2" x2="214.85000000000002" y2="445.2" stroke="#7d7d7d" stroke-width="0.55"/><line x1="292.05" y1="579.9" x2="292.05" y2="572.9" stroke="#7d7d7d" stroke-width="0.55"/><line x1="292.05" y1="438.2" x2="292.05" y2="445.2" stroke="#7d7d7d" stroke-width="0.55"/><line x1="369.25" y1="579.9" x2="369.25" y2="572.9" stroke="#7d7d7d" stroke-width="0.55"/><line x1="369.25" y1="438.2" x2="369.25" y2="445.2" stroke="#7d7d7d" stroke-width="0.55"/><line x1="60.45" y1="579.9" x2="67.45" y2="579.9" stroke="#7d7d7d" stroke-width="0.55"/><line x1="407.4" y1="579.9" x2="400.4" y2="579.9" stroke="#7d7d7d" stroke-width="0.55"/><line x1="60.45" y1="544.5" x2="67.45" y2="544.5" stroke="#7d7d7d" stroke-width="0.55"/><line x1="407.4" y1="544.5" x2="400.4" y2="544.5" stroke="#7d7d7d" stroke-width="0.55"/><line x1="60.45" y1="509.09999999999997" x2="67.45" y2="509.09999999999997" stroke="#7d7d7d" stroke-width="0.55"/><line x1="407.4" y1="509.09999999999997" x2="400.4" y2="509.09999999999997" stroke="#7d7d7d" stroke-width="0.55"/><line x1="60.45" y1="473.7" x2="67.45" y2="473.7" stroke="#7d7d7d" stroke-width="0.55"/><line x1="407.4" y1="473.7" x2="400.4" y2="473.7" stroke="#7d7d7d" stroke-width="0.55"/><line x1="60.45" y1="438.29999999999995" x2="67.45" y2="438.29999999999995" stroke="#7d7d7d" stroke-width="0.55"/><line x1="407.4" y1="438.29999999999995" x2="400.4" y2="438.29999999999995" stroke="#7d7d7d" stroke-width="0.55"/>
<clipPath id="cc"><rect x="60.45" y="438.2" width="346.95" height="142.7"/></clipPath>
<g clip-path="url(#cc)">
<path d="M60.5,579.7 60.9,579.8 61.3,579.9 61.7,579.9 62.0,579.9 62.1,579.9 62.5,579.8 62.9,579.7 63.3,579.5 63.5,579.5 63.7,579.4 64.1,579.1 64.5,578.9 64.9,578.6 65.0,578.5 65.3,578.3 65.7,577.9 66.1,577.5 66.5,577.1 66.5,577.1 66.9,576.6 67.3,576.1 67.7,575.6 68.0,575.2 68.1,575.1 68.5,574.5 68.9,573.9 69.3,573.2 69.5,572.9 69.7,572.5 70.1,571.8 70.5,571.1 70.9,570.4 71.0,570.2 71.3,569.6 71.7,568.8 72.1,568.0 72.5,567.1 72.5,567.1 72.9,566.2 73.3,565.3 73.7,564.4 74.0,563.7 74.1,563.5 74.5,562.5 74.9,561.5 75.3,560.5 75.5,560.0 75.7,559.5 76.1,558.5 76.5,557.4 76.9,556.4 77.0,556.1 77.3,555.3 77.7,554.2 78.1,553.1 78.5,551.9 78.5,551.9 78.9,550.8 79.3,549.6 79.7,548.4 80.0,547.6 80.1,547.3 80.5,546.1 80.9,544.9 81.3,543.6 81.5,543.0 81.7,542.4 82.1,541.2 82.5,539.9 82.9,538.7 83.0,538.4 83.3,537.4 83.7,536.2 84.1,534.9 84.5,533.6 84.5,533.6 84.9,532.4 85.3,531.1 85.7,529.8 86.0,528.8 86.1,528.5 86.5,527.2 86.9,525.9 87.3,524.6 87.5,524.0 87.7,523.3 88.1,522.0 88.5,520.7 88.9,519.5 89.0,519.1 89.3,518.2 89.7,516.9 90.1,515.6 90.5,514.3 90.5,514.3 90.9,513.1 91.3,511.8 91.7,510.5 92.0,509.6 92.1,509.3 92.5,508.0 92.9,506.8 93.3,505.5 93.5,504.9 93.7,504.3 94.1,503.1 94.5,501.8 94.9,500.6 95.0,500.3 95.3,499.4 95.7,498.2 96.1,497.0 96.5,495.8 96.5,495.8 96.9,494.6 97.3,493.4 97.7,492.3 98.0,491.4 98.1,491.1 98.5,489.9 98.9,488.8 99.3,487.6 99.5,487.0 99.7,486.5 100.1,485.3 100.5,484.2 100.9,483.1 101.0,482.8 101.3,481.9 101.7,480.8 102.1,479.7 102.5,478.6 102.5,478.6 102.9,477.6 103.3,476.5 103.7,475.5 104.0,474.7 104.1,474.4 104.5,473.4 104.9,472.4 105.3,471.4 105.5,470.9 105.7,470.5 106.1,469.5 106.5,468.6 106.9,467.7 107.0,467.5 107.3,466.8 107.7,465.9 108.1,465.1 108.5,464.3 108.5,464.3 108.9,463.5 109.3,462.7 109.7,461.9 110.0,461.4 110.1,461.2 110.5,460.5 110.9,459.8 111.3,459.1 111.5,458.8 111.7,458.5 112.1,457.8 112.5,457.2 112.9,456.6 113.0,456.5 113.3,456.1 113.7,455.6 114.1,455.0 114.5,454.6 114.5,454.6 114.9,454.1 115.3,453.6 115.7,453.2 116.0,452.9 116.1,452.8 116.5,452.5 116.9,452.1 117.3,451.8 117.5,451.6 117.7,451.5 118.1,451.2 118.5,451.0 118.9,450.7 119.0,450.7 119.3,450.5 119.7,450.4 120.1,450.2 120.5,450.1 120.5,450.1 120.9,450.0 121.3,449.9 121.7,449.9 122.0,449.9 122.1,449.9 122.5,449.9 122.9,449.9 123.3,450.0 123.5,450.0 123.7,450.0 124.1,450.1 124.5,450.2 124.9,450.4 125.0,450.4 125.3,450.6 125.7,450.8 126.1,451.0 126.5,451.2 126.5,451.2 126.9,451.5 127.3,451.7 127.7,452.0 128.0,452.3 128.1,452.3 128.5,452.7 128.9,453.0 129.3,453.4 129.5,453.6 129.7,453.8 130.1,454.2 130.5,454.6 130.9,455.1 131.0,455.2 131.3,455.5 131.7,456.0 132.1,456.5 132.5,457.0 132.5,457.0 132.9,457.5 133.3,458.1 133.7,458.6 134.0,459.0 134.1,459.2 134.5,459.8 134.9,460.4 135.3,461.0 135.5,461.3 135.7,461.6 136.1,462.2 136.5,462.9 136.9,463.5 137.0,463.7 137.3,464.2 137.7,464.9 138.1,465.6 138.5,466.3 138.5,466.3 138.9,467.0 139.3,467.7 139.7,468.4 140.0,469.0 140.1,469.2 140.5,469.9 140.9,470.7 141.3,471.4 141.5,471.8 141.7,472.2 142.1,473.0 142.5,473.8 142.9,474.5 143.0,474.7 143.3,475.3 143.7,476.1 144.1,476.9 144.5,477.8 144.5,477.8 144.9,478.6 145.3,479.4 145.7,480.2 146.0,480.8 146.1,481.0 146.5,481.9 146.9,482.7 147.3,483.5 147.5,484.0 147.7,484.4 148.1,485.2 148.5,486.0 148.9,486.9 149.0,487.1 149.3,487.7 149.7,488.6 150.1,489.4 150.5,490.2 150.5,490.2 150.9,491.1 151.3,491.9 151.7,492.8 152.0,493.4 152.1,493.6 152.5,494.4 152.9,495.2 153.3,496.1 153.5,496.5 153.7,496.9 154.1,497.7 154.5,498.5 154.9,499.3 155.0,499.5 155.3,500.1 155.7,500.9 156.1,501.7 156.5,502.5 156.5,502.5 156.9,503.3 157.3,504.0 157.7,504.8 158.0,505.4 158.1,505.6 158.5,506.3 158.9,507.0 159.3,507.7 159.5,508.1 159.7,508.5 160.1,509.1 160.5,509.8 160.9,510.5 161.0,510.7 161.3,511.1 161.7,511.8 162.1,512.4 162.5,513.0 162.5,513.0 162.9,513.6 163.3,514.1 163.7,514.7 164.0,515.1 164.1,515.2 164.5,515.7 164.9,516.2 165.3,516.7 165.5,516.9 165.7,517.1 166.1,517.5 166.5,517.9 166.9,518.3 167.0,518.4 167.3,518.7 167.7,519.0 168.1,519.3 168.5,519.5 168.5,519.5 168.9,519.8 169.3,520.0 169.7,520.2 170.0,520.3 170.1,520.3 170.5,520.5 170.9,520.6 171.3,520.7 171.5,520.7 171.7,520.7 172.1,520.8 172.5,520.8 172.9,520.9 173.0,520.9 173.3,520.9 173.7,520.9 174.1,520.9 174.5,520.9 174.5,520.9 174.9,520.9 175.3,520.8 175.7,520.8 176.0,520.7 176.1,520.7 176.5,520.7 176.9,520.6 177.3,520.5 177.5,520.5 177.7,520.4 178.1,520.4 178.5,520.3 178.9,520.1 179.0,520.1 179.3,520.0 179.7,519.9 180.1,519.8 180.5,519.6 180.5,519.6 180.9,519.5 181.3,519.3 181.7,519.1 182.0,519.0 182.1,518.9 182.5,518.7 182.9,518.5 183.3,518.2 183.5,518.1 183.7,518.0 184.1,517.7 184.5,517.4 184.9,517.1 185.0,517.0 185.3,516.7 185.7,516.4 186.1,516.0 186.5,515.6 186.5,515.6 186.9,515.1 187.3,514.7 187.7,514.2 188.0,513.8 188.1,513.7 188.5,513.1 188.9,512.5 189.3,511.9 189.5,511.6 189.7,511.3 190.1,510.7 190.5,510.0 190.9,509.3 191.0,509.1 191.3,508.6 191.7,507.8 192.1,507.1 192.5,506.3 192.5,506.3 192.9,505.6 193.3,504.8 193.7,504.0 194.0,503.4 194.1,503.2 194.5,502.4 194.9,501.7 195.3,500.9 195.5,500.5 195.7,500.1 196.1,499.3 196.5,498.6 196.9,497.8 197.0,497.6 197.3,497.0 197.7,496.3 198.1,495.5 198.5,494.8 198.5,494.8 198.9,494.0 199.3,493.3 199.7,492.6 200.0,492.0 200.1,491.8 200.5,491.1 200.9,490.4 201.3,489.7 201.5,489.4 201.7,489.0 202.1,488.3 202.5,487.7 202.9,487.0 203.0,486.8 203.3,486.3 203.7,485.7 204.1,485.0 204.5,484.4 204.5,484.4 204.9,483.8 205.3,483.1 205.7,482.5 206.0,482.1 206.1,481.9 206.5,481.3 206.9,480.8 207.3,480.2 207.5,479.9 207.7,479.6 208.1,479.1 208.5,478.6 208.9,478.0 209.0,477.9 209.3,477.5 209.7,477.0 210.1,476.5 210.5,476.1 210.5,476.1 210.9,475.6 211.3,475.1 211.7,474.7 212.0,474.4 212.1,474.2 212.5,473.8 212.9,473.4 213.3,473.0 213.5,472.8 213.7,472.6 214.1,472.2 214.5,471.9 214.9,471.5 215.0,471.4 215.3,471.2 215.7,470.8 216.1,470.5 216.5,470.2 216.5,470.2 216.9,469.9 217.3,469.6 217.7,469.3 218.0,469.1 218.1,469.0 218.5,468.8 218.9,468.5 219.3,468.3 219.5,468.2 219.7,468.1 220.1,467.9 220.5,467.7 220.9,467.5 221.0,467.5 221.3,467.3 221.7,467.2 222.1,467.0 222.5,466.9 222.5,466.9 222.9,466.8 223.3,466.7 223.7,466.6 224.0,466.5 224.1,466.5 224.5,466.4 224.9,466.3 225.3,466.3 225.5,466.3 225.7,466.3 226.1,466.2 226.5,466.2 226.9,466.2 227.0,466.2 227.3,466.2 227.7,466.2 228.1,466.3 228.5,466.3 228.5,466.3 228.9,466.4 229.3,466.5 229.7,466.5 230.0,466.6 230.1,466.6 230.5,466.8 230.9,466.9 231.3,467.0 231.5,467.1 231.7,467.2 232.1,467.3 232.5,467.5 232.9,467.7 233.0,467.8 233.3,467.9 233.7,468.1 234.1,468.3 234.5,468.6 234.5,468.6 234.9,468.8 235.3,469.1 235.7,469.4 236.0,469.6 236.1,469.7 236.5,470.0 236.9,470.3 237.3,470.6 237.5,470.8 237.7,470.9 238.1,471.3 238.5,471.6 238.9,472.0 239.0,472.1 239.3,472.4 239.7,472.8 240.1,473.2 240.5,473.6 240.5,473.6 240.9,474.0 241.3,474.4 241.7,474.9 242.0,475.2 242.1,475.3 242.5,475.7 242.9,476.2 243.3,476.7 243.5,476.9 243.7,477.2 244.1,477.6 244.5,478.1 244.9,478.6 245.0,478.8 245.3,479.1 245.7,479.7 246.1,480.2 246.5,480.7 246.5,480.7 246.9,481.2 247.3,481.8 247.7,482.3 248.0,482.8 248.1,482.9 248.5,483.5 248.9,484.0 249.3,484.6 249.5,484.9 249.7,485.2 250.1,485.8 250.5,486.3 250.9,486.9 251.0,487.1 251.3,487.5 251.7,488.1 252.1,488.7 252.5,489.3 252.5,489.3 252.9,489.9 253.3,490.5 253.7,491.1 254.0,491.6 254.1,491.7 254.5,492.3 254.9,492.9 255.3,493.5 255.5,493.8 255.7,494.1 256.1,494.7 256.5,495.3 256.9,495.9 257.0,496.0 257.3,496.5 257.7,497.0 258.1,497.6 258.5,498.2 258.5,498.2 258.9,498.7 259.3,499.3 259.7,499.8 260.0,500.2 260.1,500.3 260.5,500.9 260.9,501.4 261.3,501.9 261.5,502.1 261.7,502.4 262.1,502.9 262.5,503.3 262.9,503.8 263.0,503.9 263.3,504.3 263.7,504.7 264.1,505.2 264.5,505.6 264.5,505.6 264.9,506.0 265.3,506.4 265.7,506.8 266.0,507.1 266.1,507.2 266.5,507.6 266.9,507.9 267.3,508.3 267.5,508.5 267.7,508.6 268.1,509.0 268.5,509.3 268.9,509.6 269.0,509.7 269.3,509.9 269.7,510.2 270.1,510.5 270.5,510.7 270.5,510.7 270.9,511.0 271.3,511.2 271.7,511.5 272.0,511.6 272.1,511.7 272.5,511.9 272.9,512.1 273.3,512.3 273.5,512.4 273.7,512.5 274.1,512.6 274.5,512.8 274.9,512.9 275.0,512.9 275.3,513.0 275.7,513.2 276.1,513.3 276.5,513.3 276.5,513.3 276.9,513.4 277.3,513.5 277.7,513.5 278.0,513.6 278.1,513.6 278.5,513.6 278.9,513.6 279.3,513.6 279.5,513.6 279.7,513.6 280.1,513.6 280.5,513.5 280.9,513.5 281.0,513.5 281.3,513.4 281.7,513.3 282.1,513.3 282.5,513.1 282.5,513.1 282.9,513.0 283.3,512.9 283.7,512.7 284.0,512.6 284.1,512.6 284.5,512.4 284.9,512.2 285.3,512.0 285.5,511.9 285.7,511.8 286.1,511.6 286.5,511.3 286.9,511.1 287.0,511.0 287.3,510.8 287.7,510.5 288.1,510.2 288.5,509.9 288.5,509.9 288.9,509.6 289.3,509.3 289.7,509.0 290.0,508.7 290.1,508.6 290.5,508.3 290.9,507.9 291.3,507.5 291.5,507.3 291.7,507.2 292.1,506.8 292.5,506.4 292.9,506.0 293.0,505.9 293.3,505.6 293.7,505.1 294.1,504.7 294.5,504.3 294.5,504.3 294.9,503.8 295.3,503.4 295.7,502.9 296.0,502.6 296.1,502.5 296.5,502.0 296.9,501.5 297.3,501.1 297.5,500.8 297.7,500.6 298.1,500.1 298.5,499.6 298.9,499.1 299.0,499.0 299.3,498.6 299.7,498.1 300.1,497.7 300.5,497.2 300.5,497.2 300.9,496.6 301.3,496.1 301.7,495.6 302.0,495.3 302.1,495.1 302.5,494.6 302.9,494.1 303.3,493.6 303.5,493.4 303.7,493.1 304.1,492.6 304.5,492.1 304.9,491.6 305.0,491.5 305.3,491.1 305.7,490.6 306.1,490.1 306.5,489.6 306.5,489.6 306.9,489.1 307.3,488.6 307.7,488.1 308.0,487.7 308.1,487.6 308.5,487.1 308.9,486.6 309.3,486.1 309.5,485.9 309.7,485.7 310.1,485.2 310.5,484.7 310.9,484.3 311.0,484.2 311.3,483.8 311.7,483.4 312.1,482.9 312.5,482.5 312.5,482.5 312.9,482.1 313.3,481.7 313.7,481.3 314.0,480.9 314.1,480.8 314.5,480.4 314.9,480.1 315.3,479.7 315.5,479.5 315.7,479.3 316.1,478.9 316.5,478.6 316.9,478.2 317.0,478.2 317.3,477.9 317.7,477.6 318.1,477.3 318.5,476.9 318.5,476.9 318.9,476.6 319.3,476.4 319.7,476.1 320.0,475.9 320.1,475.8 320.5,475.5 320.9,475.3 321.3,475.0 321.5,474.9 321.7,474.8 322.1,474.6 322.5,474.4 322.9,474.1 323.0,474.1 323.3,474.0 323.7,473.8 324.1,473.6 324.5,473.4 324.5,473.4 324.9,473.3 325.3,473.1 325.7,473.0 326.0,472.9 326.1,472.9 326.5,472.7 326.9,472.6 327.3,472.5 327.5,472.5 327.7,472.5 328.1,472.4 328.5,472.3 328.9,472.3 329.0,472.3 329.3,472.2 329.7,472.2 330.1,472.2 330.5,472.2 330.5,472.2 330.9,472.2 331.3,472.2 331.7,472.2 332.0,472.2 332.1,472.2 332.5,472.3 332.9,472.3 333.3,472.4 333.5,472.4 333.7,472.5 334.1,472.6 334.5,472.7 334.9,472.8 335.0,472.8 335.3,472.9 335.7,473.1 336.1,473.2 336.5,473.4 336.5,473.4 336.9,473.6 337.3,473.8 337.7,474.0 338.0,474.1 338.1,474.2 338.5,474.4 338.9,474.6 339.3,474.9 339.5,475.0 339.7,475.1 340.1,475.4 340.5,475.7 340.9,476.0 341.0,476.1 341.3,476.3 341.7,476.6 342.1,477.0 342.5,477.3 342.5,477.3 342.9,477.7 343.3,478.1 343.7,478.4 344.0,478.7 344.1,478.8 344.5,479.2 344.9,479.7 345.3,480.1 345.5,480.3 345.7,480.5 346.1,480.9 346.5,481.4 346.9,481.8 347.0,481.9 347.3,482.3 347.7,482.7 348.1,483.2 348.5,483.7 348.5,483.7 348.9,484.2 349.3,484.6 349.7,485.1 350.0,485.5 350.1,485.6 350.5,486.1 350.9,486.6 351.3,487.1 351.5,487.3 351.7,487.6 352.1,488.0 352.5,488.5 352.9,489.0 353.0,489.1 353.3,489.5 353.7,490.0 354.1,490.5 354.5,491.0 354.5,491.0 354.9,491.4 355.3,491.9 355.7,492.4 356.0,492.7 356.1,492.9 356.5,493.3 356.9,493.8 357.3,494.2 357.5,494.5 357.7,494.7 358.1,495.1 358.5,495.5 358.9,496.0 359.0,496.1 359.3,496.4 359.7,496.8 360.1,497.2 360.5,497.6 360.5,497.6 360.9,498.0 361.3,498.3 361.7,498.7 362.0,499.0 362.1,499.1 362.5,499.4 362.9,499.8 363.3,500.1 363.5,500.3 363.7,500.4 364.1,500.8 364.5,501.1 364.9,501.4 365.0,501.5 365.3,501.7 365.7,502.0 366.1,502.3 366.5,502.6 366.5,502.6 366.9,502.9 367.3,503.2 367.7,503.4 368.0,503.6 368.1,503.7 368.5,504.0 368.9,504.2 369.3,504.5 369.5,504.6 369.7,504.7 370.1,505.0 370.5,505.2 370.9,505.5 371.0,505.5 371.3,505.7 371.7,505.9 372.1,506.2 372.5,506.4 372.5,506.4 372.9,506.6 373.3,506.8 373.7,507.0 374.0,507.1 374.1,507.2 374.5,507.4 374.9,507.5 375.3,507.7 375.5,507.8 375.7,507.9 376.1,508.0 376.5,508.2 376.9,508.3 377.0,508.4 377.3,508.5 377.7,508.6 378.1,508.7 378.5,508.8 378.5,508.8 378.9,509.0 379.3,509.1 379.7,509.1 380.0,509.2 380.1,509.2 380.5,509.3 380.9,509.4 381.3,509.4 381.5,509.4 381.7,509.5 382.1,509.5 382.5,509.5 382.9,509.5 383.0,509.5 383.3,509.5 383.7,509.5 384.1,509.5 384.5,509.5 384.5,509.5 384.9,509.5 385.3,509.4 385.7,509.4 386.0,509.3 386.1,509.3 386.5,509.3 386.9,509.2 387.3,509.1 387.5,509.0 387.7,509.0 388.1,508.8 388.5,508.7 388.9,508.6 389.0,508.5 389.3,508.4 389.7,508.2 390.1,508.1 390.5,507.9 390.5,507.9 390.9,507.7 391.3,507.4 391.7,507.2 392.0,507.0 392.1,507.0 392.5,506.7 392.9,506.4 393.3,506.2 393.5,506.0 393.7,505.9 394.1,505.5 394.5,505.2 394.9,504.9 395.0,504.8 395.3,504.5 395.7,504.2 396.1,503.8 396.5,503.4 396.5,503.4 396.9,503.0 397.3,502.6 397.7,502.2 398.0,501.9 398.1,501.8 398.5,501.3 398.9,500.9 399.3,500.4 399.5,500.2 399.7,500.0 400.1,499.6 400.5,499.1 400.9,498.6 401.0,498.5 401.3,498.2 401.7,497.7 402.1,497.3 402.5,496.8 402.5,496.8 402.9,496.4 403.3,495.9 403.7,495.5 404.0,495.2 404.1,495.0 404.5,494.6 404.9,494.2 405.3,493.8 405.5,493.6 405.7,493.4 406.1,493.0 406.5,492.6 406.9,492.2 407.0,492.1" fill="none" stroke="#56B4E9" stroke-width="1.55" stroke-linejoin="round" />
<path d="M60.5,579.8 60.9,579.9 61.3,580.0 61.7,580.0 62.0,580.0 62.1,580.1 62.5,580.1 62.9,580.1 63.3,580.1 63.5,580.1 63.7,580.1 64.1,580.1 64.5,580.1 64.9,580.1 65.0,580.1 65.3,580.1 65.7,580.1 66.1,580.0 66.5,580.0 66.5,580.0 66.9,579.9 67.3,579.9 67.7,579.8 68.0,579.7 68.1,579.7 68.5,579.6 68.9,579.5 69.3,579.4 69.5,579.4 69.7,579.3 70.1,579.2 70.5,579.1 70.9,579.0 71.0,579.0 71.3,578.9 71.7,578.7 72.1,578.6 72.5,578.5 72.5,578.5 72.9,578.3 73.3,578.2 73.7,578.0 74.0,577.9 74.1,577.8 74.5,577.7 74.9,577.5 75.3,577.3 75.5,577.3 75.7,577.2 76.1,577.0 76.5,576.8 76.9,576.6 77.0,576.6 77.3,576.4 77.7,576.3 78.1,576.1 78.5,575.9 78.5,575.9 78.9,575.7 79.3,575.5 79.7,575.3 80.0,575.1 80.1,575.1 80.5,574.9 80.9,574.7 81.3,574.4 81.5,574.3 81.7,574.2 82.1,574.0 82.5,573.8 82.9,573.6 83.0,573.5 83.3,573.4 83.7,573.1 84.1,572.9 84.5,572.7 84.5,572.7 84.9,572.4 85.3,572.2 85.7,571.9 86.0,571.7 86.1,571.6 86.5,571.3 86.9,571.1 87.3,570.8 87.5,570.6 87.7,570.5 88.1,570.2 88.5,569.9 88.9,569.5 89.0,569.4 89.3,569.2 89.7,568.9 90.1,568.5 90.5,568.1 90.5,568.1 90.9,567.8 91.3,567.4 91.7,567.0 92.0,566.7 92.1,566.6 92.5,566.3 92.9,565.9 93.3,565.5 93.5,565.2 93.7,565.0 94.1,564.6 94.5,564.2 94.9,563.8 95.0,563.7 95.3,563.3 95.7,562.9 96.1,562.5 96.5,562.0 96.5,562.0 96.9,561.6 97.3,561.1 97.7,560.6 98.0,560.3 98.1,560.2 98.5,559.7 98.9,559.3 99.3,558.8 99.5,558.6 99.7,558.4 100.1,557.9 100.5,557.5 100.9,557.0 101.0,556.9 101.3,556.6 101.7,556.1 102.1,555.7 102.5,555.2 102.5,555.2 102.9,554.8 103.3,554.3 103.7,553.9 104.0,553.6 104.1,553.4 104.5,553.0 104.9,552.5 105.3,552.1 105.5,551.9 105.7,551.6 106.1,551.2 106.5,550.7 106.9,550.2 107.0,550.1 107.3,549.8 107.7,549.3 108.1,548.8 108.5,548.3 108.5,548.3 108.9,547.8 109.3,547.4 109.7,546.9 110.0,546.5 110.1,546.4 110.5,545.9 110.9,545.4 111.3,544.9 111.5,544.6 111.7,544.4 112.1,543.8 112.5,543.3 112.9,542.8 113.0,542.7 113.3,542.3 113.7,541.8 114.1,541.2 114.5,540.7 114.5,540.7 114.9,540.2 115.3,539.7 115.7,539.1 116.0,538.7 116.1,538.6 116.5,538.0 116.9,537.5 117.3,537.0 117.5,536.7 117.7,536.4 118.1,535.9 118.5,535.3 118.9,534.8 119.0,534.6 119.3,534.2 119.7,533.6 120.1,533.1 120.5,532.5 120.5,532.5 120.9,532.0 121.3,531.4 121.7,530.8 122.0,530.4 122.1,530.3 122.5,529.7 122.9,529.1 123.3,528.6 123.5,528.3 123.7,528.0 124.1,527.4 124.5,526.9 124.9,526.3 125.0,526.1 125.3,525.7 125.7,525.1 126.1,524.6 126.5,524.0 126.5,524.0 126.9,523.4 127.3,522.8 127.7,522.2 128.0,521.8 128.1,521.7 128.5,521.1 128.9,520.5 129.3,519.9 129.5,519.6 129.7,519.3 130.1,518.8 130.5,518.2 130.9,517.6 131.0,517.5 131.3,517.0 131.7,516.4 132.1,515.9 132.5,515.3 132.5,515.3 132.9,514.7 133.3,514.1 133.7,513.5 134.0,513.1 134.1,513.0 134.5,512.4 134.9,511.8 135.3,511.2 135.5,511.0 135.7,510.7 136.1,510.1 136.5,509.5 136.9,509.0 137.0,508.8 137.3,508.4 137.7,507.8 138.1,507.3 138.5,506.7 138.5,506.7 138.9,506.1 139.3,505.6 139.7,505.0 140.0,504.6 140.1,504.5 140.5,503.9 140.9,503.3 141.3,502.8 141.5,502.5 141.7,502.3 142.1,501.7 142.5,501.2 142.9,500.6 143.0,500.5 143.3,500.1 143.7,499.6 144.1,499.0 144.5,498.5 144.5,498.5 144.9,498.0 145.3,497.4 145.7,496.9 146.0,496.5 146.1,496.4 146.5,495.9 146.9,495.4 147.3,494.9 147.5,494.6 147.7,494.4 148.1,493.9 148.5,493.4 148.9,492.9 149.0,492.8 149.3,492.4 149.7,491.9 150.1,491.4 150.5,490.9 150.5,490.9 150.9,490.4 151.3,490.0 151.7,489.5 152.0,489.1 152.1,489.0 152.5,488.5 152.9,488.1 153.3,487.6 153.5,487.4 153.7,487.2 154.1,486.7 154.5,486.2 154.9,485.8 155.0,485.7 155.3,485.3 155.7,484.9 156.1,484.4 156.5,484.0 156.5,484.0 156.9,483.5 157.3,483.1 157.7,482.7 158.0,482.3 158.1,482.2 158.5,481.8 158.9,481.4 159.3,480.9 159.5,480.7 159.7,480.5 160.1,480.1 160.5,479.7 160.9,479.2 161.0,479.1 161.3,478.8 161.7,478.4 162.1,478.0 162.5,477.6 162.5,477.6 162.9,477.2 163.3,476.8 163.7,476.4 164.0,476.0 164.1,475.9 164.5,475.5 164.9,475.1 165.3,474.7 165.5,474.5 165.7,474.3 166.1,473.9 166.5,473.6 166.9,473.2 167.0,473.1 167.3,472.8 167.7,472.4 168.1,472.0 168.5,471.6 168.5,471.6 168.9,471.2 169.3,470.8 169.7,470.5 170.0,470.2 170.1,470.1 170.5,469.7 170.9,469.3 171.3,469.0 171.5,468.8 171.7,468.6 172.1,468.2 172.5,467.9 172.9,467.5 173.0,467.4 173.3,467.2 173.7,466.8 174.1,466.5 174.5,466.1 174.5,466.1 174.9,465.8 175.3,465.5 175.7,465.1 176.0,464.9 176.1,464.8 176.5,464.5 176.9,464.2 177.3,463.8 177.5,463.7 177.7,463.5 178.1,463.2 178.5,462.9 178.9,462.6 179.0,462.6 179.3,462.3 179.7,462.1 180.1,461.8 180.5,461.5 180.5,461.5 180.9,461.2 181.3,461.0 181.7,460.7 182.0,460.5 182.1,460.5 182.5,460.2 182.9,460.0 183.3,459.7 183.5,459.6 183.7,459.5 184.1,459.3 184.5,459.1 184.9,458.8 185.0,458.8 185.3,458.6 185.7,458.4 186.1,458.2 186.5,458.0 186.5,458.0 186.9,457.8 187.3,457.7 187.7,457.5 188.0,457.3 188.1,457.3 188.5,457.1 188.9,457.0 189.3,456.8 189.5,456.7 189.7,456.6 190.1,456.5 190.5,456.3 190.9,456.2 191.0,456.2 191.3,456.1 191.7,455.9 192.1,455.8 192.5,455.7 192.5,455.7 192.9,455.6 193.3,455.4 193.7,455.3 194.0,455.2 194.1,455.2 194.5,455.1 194.9,455.0 195.3,454.9 195.5,454.9 195.7,454.8 196.1,454.7 196.5,454.6 196.9,454.6 197.0,454.5 197.3,454.5 197.7,454.4 198.1,454.3 198.5,454.3 198.5,454.3 198.9,454.2 199.3,454.2 199.7,454.1 200.0,454.1 200.1,454.1 200.5,454.0 200.9,454.0 201.3,454.0 201.5,453.9 201.7,453.9 202.1,453.9 202.5,453.9 202.9,453.9 203.0,453.9 203.3,453.8 203.7,453.8 204.1,453.8 204.5,453.8 204.5,453.8 204.9,453.8 205.3,453.8 205.7,453.9 206.0,453.9 206.1,453.9 206.5,453.9 206.9,453.9 207.3,454.0 207.5,454.0 207.7,454.0 208.1,454.0 208.5,454.1 208.9,454.1 209.0,454.1 209.3,454.2 209.7,454.2 210.1,454.3 210.5,454.3 210.5,454.3 210.9,454.4 211.3,454.5 211.7,454.6 212.0,454.6 212.1,454.6 212.5,454.7 212.9,454.8 213.3,454.9 213.5,455.0 213.7,455.0 214.1,455.1 214.5,455.2 214.9,455.4 215.0,455.4 215.3,455.5 215.7,455.6 216.1,455.7 216.5,455.9 216.5,455.9 216.9,456.0 217.3,456.1 217.7,456.3 218.0,456.4 218.1,456.4 218.5,456.6 218.9,456.7 219.3,456.9 219.5,457.0 219.7,457.1 220.1,457.2 220.5,457.4 220.9,457.6 221.0,457.6 221.3,457.8 221.7,458.0 222.1,458.2 222.5,458.4 222.5,458.4 222.9,458.6 223.3,458.8 223.7,459.0 224.0,459.1 224.1,459.2 224.5,459.4 224.9,459.6 225.3,459.8 225.5,459.9 225.7,460.0 226.1,460.3 226.5,460.5 226.9,460.7 227.0,460.8 227.3,461.0 227.7,461.2 228.1,461.4 228.5,461.7 228.5,461.7 228.9,461.9 229.3,462.2 229.7,462.4 230.0,462.6 230.1,462.7 230.5,462.9 230.9,463.2 231.3,463.4 231.5,463.6 231.7,463.7 232.1,464.0 232.5,464.2 232.9,464.5 233.0,464.6 233.3,464.8 233.7,465.1 234.1,465.3 234.5,465.6 234.5,465.6 234.9,465.9 235.3,466.2 235.7,466.4 236.0,466.6 236.1,466.7 236.5,467.0 236.9,467.3 237.3,467.6 237.5,467.7 237.7,467.9 238.1,468.2 238.5,468.5 238.9,468.7 239.0,468.8 239.3,469.1 239.7,469.4 240.1,469.7 240.5,470.0 240.5,470.0 240.9,470.3 241.3,470.6 241.7,470.9 242.0,471.2 242.1,471.3 242.5,471.6 242.9,471.9 243.3,472.3 243.5,472.4 243.7,472.6 244.1,473.0 244.5,473.3 244.9,473.7 245.0,473.8 245.3,474.0 245.7,474.4 246.1,474.8 246.5,475.2 246.5,475.2 246.9,475.6 247.3,475.9 247.7,476.4 248.0,476.7 248.1,476.8 248.5,477.2 248.9,477.6 249.3,478.0 249.5,478.2 249.7,478.4 250.1,478.9 250.5,479.3 250.9,479.7 251.0,479.8 251.3,480.2 251.7,480.6 252.1,481.0 252.5,481.4 252.5,481.4 252.9,481.8 253.3,482.3 253.7,482.7 254.0,483.0 254.1,483.1 254.5,483.4 254.9,483.8 255.3,484.2 255.5,484.4 255.7,484.6 256.1,484.9 256.5,485.3 256.9,485.6 257.0,485.7 257.3,486.0 257.7,486.3 258.1,486.7 258.5,487.0 258.5,487.0 258.9,487.4 259.3,487.7 259.7,488.0 260.0,488.3 260.1,488.4 260.5,488.7 260.9,489.1 261.3,489.4 261.5,489.6 261.7,489.8 262.1,490.1 262.5,490.5 262.9,490.8 263.0,490.9 263.3,491.2 263.7,491.5 264.1,491.9 264.5,492.3 264.5,492.3 264.9,492.6 265.3,493.0 265.7,493.3 266.0,493.6 266.1,493.7 266.5,494.0 266.9,494.4 267.3,494.8 267.5,495.0 267.7,495.1 268.1,495.5 268.5,495.9 268.9,496.2 269.0,496.3 269.3,496.6 269.7,496.9 270.1,497.3 270.5,497.7 270.5,497.7 270.9,498.0 271.3,498.4 271.7,498.7 272.0,499.0 272.1,499.1 272.5,499.5 272.9,499.8 273.3,500.2 273.5,500.4 273.7,500.5 274.1,500.9 274.5,501.3 274.9,501.6 275.0,501.7 275.3,502.0 275.7,502.3 276.1,502.7 276.5,503.0 276.5,503.0 276.9,503.4 277.3,503.7 277.7,504.1 278.0,504.3 278.1,504.4 278.5,504.7 278.9,505.1 279.3,505.4 279.5,505.6 279.7,505.8 280.1,506.1 280.5,506.4 280.9,506.8 281.0,506.8 281.3,507.1 281.7,507.4 282.1,507.7 282.5,508.1 282.5,508.1 282.9,508.4 283.3,508.7 283.7,509.0 284.0,509.3 284.1,509.3 284.5,509.6 284.9,510.0 285.3,510.3 285.5,510.4 285.7,510.6 286.1,510.9 286.5,511.2 286.9,511.4 287.0,511.5 287.3,511.7 287.7,512.0 288.1,512.3 288.5,512.6 288.5,512.6 288.9,512.9 289.3,513.1 289.7,513.4 290.0,513.6 290.1,513.7 290.5,514.0 290.9,514.2 291.3,514.5 291.5,514.6 291.7,514.7 292.1,515.0 292.5,515.2 292.9,515.5 293.0,515.5 293.3,515.7 293.7,516.0 294.1,516.2 294.5,516.4 294.5,516.4 294.9,516.7 295.3,516.9 295.7,517.1 296.0,517.3 296.1,517.3 296.5,517.5 296.9,517.8 297.3,518.0 297.5,518.1 297.7,518.2 298.1,518.4 298.5,518.6 298.9,518.8 299.0,518.8 299.3,518.9 299.7,519.1 300.1,519.3 300.5,519.5 300.5,519.5 300.9,519.7 301.3,519.9 301.7,520.0 302.0,520.2 302.1,520.2 302.5,520.4 302.9,520.5 303.3,520.7 303.5,520.8 303.7,520.9 304.1,521.0 304.5,521.2 304.9,521.3 305.0,521.4 305.3,521.5 305.7,521.7 306.1,521.8 306.5,522.0 306.5,522.0 306.9,522.1 307.3,522.2 307.7,522.4 308.0,522.5 308.1,522.5 308.5,522.7 308.9,522.8 309.3,523.0 309.5,523.0 309.7,523.1 310.1,523.2 310.5,523.4 310.9,523.5 311.0,523.5 311.3,523.6 311.7,523.7 312.1,523.9 312.5,524.0 312.5,524.0 312.9,524.1 313.3,524.2 313.7,524.3 314.0,524.4 314.1,524.5 314.5,524.6 314.9,524.7 315.3,524.8 315.5,524.8 315.7,524.9 316.1,525.0 316.5,525.1 316.9,525.2 317.0,525.2 317.3,525.3 317.7,525.4 318.1,525.5 318.5,525.6 318.5,525.6 318.9,525.6 319.3,525.7 319.7,525.8 320.0,525.8 320.1,525.9 320.5,525.9 320.9,526.0 321.3,526.1 321.5,526.1 321.7,526.1 322.1,526.2 322.5,526.2 322.9,526.3 323.0,526.3 323.3,526.3 323.7,526.4 324.1,526.4 324.5,526.5 324.5,526.5 324.9,526.5 325.3,526.5 325.7,526.5 326.0,526.5 326.1,526.6 326.5,526.6 326.9,526.6 327.3,526.6 327.5,526.6 327.7,526.6 328.1,526.6 328.5,526.6 328.9,526.6 329.0,526.6 329.3,526.6 329.7,526.6 330.1,526.5 330.5,526.5 330.5,526.5 330.9,526.5 331.3,526.5 331.7,526.4 332.0,526.4 332.1,526.4 332.5,526.4 332.9,526.3 333.3,526.3 333.5,526.2 333.7,526.2 334.1,526.2 334.5,526.1 334.9,526.0 335.0,526.0 335.3,526.0 335.7,525.9 336.1,525.8 336.5,525.8 336.5,525.8 336.9,525.7 337.3,525.6 337.7,525.5 338.0,525.5 338.1,525.4 338.5,525.4 338.9,525.3 339.3,525.2 339.5,525.1 339.7,525.1 340.1,525.0 340.5,524.9 340.9,524.8 341.0,524.7 341.3,524.7 341.7,524.6 342.1,524.4 342.5,524.3 342.5,524.3 342.9,524.2 343.3,524.1 343.7,524.0 344.0,523.9 344.1,523.8 344.5,523.7 344.9,523.6 345.3,523.4 345.5,523.4 345.7,523.3 346.1,523.2 346.5,523.0 346.9,522.9 347.0,522.8 347.3,522.7 347.7,522.6 348.1,522.4 348.5,522.3 348.5,522.3 348.9,522.1 349.3,522.0 349.7,521.8 350.0,521.7 350.1,521.6 350.5,521.5 350.9,521.3 351.3,521.1 351.5,521.1 351.7,521.0 352.1,520.8 352.5,520.6 352.9,520.4 353.0,520.4 353.3,520.3 353.7,520.1 354.1,519.9 354.5,519.7 354.5,519.7 354.9,519.5 355.3,519.3 355.7,519.1 356.0,519.0 356.1,518.9 356.5,518.7 356.9,518.5 357.3,518.3 357.5,518.2 357.7,518.1 358.1,517.9 358.5,517.7 358.9,517.5 359.0,517.5 359.3,517.3 359.7,517.1 360.1,516.9 360.5,516.6 360.5,516.6 360.9,516.4 361.3,516.2 361.7,516.0 362.0,515.8 362.1,515.7 362.5,515.5 362.9,515.3 363.3,515.0 363.5,514.9 363.7,514.8 364.1,514.6 364.5,514.3 364.9,514.1 365.0,514.0 365.3,513.8 365.7,513.6 366.1,513.3 366.5,513.1 366.5,513.1 366.9,512.8 367.3,512.6 367.7,512.3 368.0,512.2 368.1,512.1 368.5,511.8 368.9,511.6 369.3,511.3 369.5,511.2 369.7,511.1 370.1,510.8 370.5,510.5 370.9,510.3 371.0,510.2 371.3,510.0 371.7,509.8 372.1,509.5 372.5,509.2 372.5,509.2 372.9,509.0 373.3,508.7 373.7,508.4 374.0,508.2 374.1,508.2 374.5,507.9 374.9,507.6 375.3,507.4 375.5,507.2 375.7,507.1 376.1,506.8 376.5,506.6 376.9,506.3 377.0,506.2 377.3,506.0 377.7,505.8 378.1,505.5 378.5,505.2 378.5,505.2 378.9,505.0 379.3,504.7 379.7,504.4 380.0,504.2 380.1,504.1 380.5,503.9 380.9,503.6 381.3,503.3 381.5,503.2 381.7,503.0 382.1,502.8 382.5,502.5 382.9,502.2 383.0,502.1 383.3,501.9 383.7,501.7 384.1,501.4 384.5,501.1 384.5,501.1 384.9,500.8 385.3,500.5 385.7,500.3 386.0,500.1 386.1,500.0 386.5,499.7 386.9,499.4 387.3,499.1 387.5,499.0 387.7,498.9 388.1,498.6 388.5,498.3 388.9,498.0 389.0,497.9 389.3,497.7 389.7,497.4 390.1,497.2 390.5,496.9 390.5,496.9 390.9,496.6 391.3,496.3 391.7,496.0 392.0,495.8 392.1,495.7 392.5,495.5 392.9,495.2 393.3,494.9 393.5,494.7 393.7,494.6 394.1,494.3 394.5,494.0 394.9,493.7 395.0,493.7 395.3,493.4 395.7,493.2 396.1,492.9 396.5,492.6 396.5,492.6 396.9,492.3 397.3,492.0 397.7,491.7 398.0,491.5 398.1,491.5 398.5,491.2 398.9,490.9 399.3,490.6 399.5,490.5 399.7,490.4 400.1,490.1 400.5,489.9 400.9,489.6 401.0,489.6 401.3,489.4 401.7,489.2 402.1,488.9 402.5,488.7 402.5,488.7 402.9,488.5 403.3,488.3 403.7,488.1 404.0,488.0 404.1,488.0 404.5,487.8 404.9,487.6 405.3,487.5 405.5,487.4 405.7,487.4 406.1,487.3 406.5,487.2 406.9,487.1 407.0,487.0" fill="none" stroke="#D55E00" stroke-width="1.55" stroke-linejoin="round" />
<path d="M60.5,579.9 60.9,579.9 61.3,579.9 61.7,579.9 62.0,579.9 62.1,579.9 62.5,579.9 62.9,579.9 63.3,579.9 63.5,579.8 63.7,579.8 64.1,579.8 64.5,579.7 64.9,579.7 65.0,579.6 65.3,579.6 65.7,579.5 66.1,579.4 66.5,579.3 66.5,579.3 66.9,579.3 67.3,579.2 67.7,579.0 68.0,579.0 68.1,578.9 68.5,578.8 68.9,578.7 69.3,578.6 69.5,578.5 69.7,578.4 70.1,578.3 70.5,578.2 70.9,578.0 71.0,578.0 71.3,577.9 71.7,577.7 72.1,577.5 72.5,577.4 72.5,577.4 72.9,577.2 73.3,577.0 73.7,576.8 74.0,576.7 74.1,576.6 74.5,576.4 74.9,576.2 75.3,576.0 75.5,575.9 75.7,575.8 76.1,575.6 76.5,575.4 76.9,575.2 77.0,575.1 77.3,574.9 77.7,574.7 78.1,574.5 78.5,574.2 78.5,574.2 78.9,574.0 79.3,573.7 79.7,573.5 80.0,573.3 80.1,573.2 80.5,573.0 80.9,572.7 81.3,572.4 81.5,572.3 81.7,572.2 82.1,571.9 82.5,571.6 82.9,571.3 83.0,571.2 83.3,571.0 83.7,570.7 84.1,570.4 84.5,570.1 84.5,570.1 84.9,569.8 85.3,569.5 85.7,569.1 86.0,568.9 86.1,568.8 86.5,568.5 86.9,568.1 87.3,567.8 87.5,567.6 87.7,567.4 88.1,567.0 88.5,566.7 88.9,566.3 89.0,566.2 89.3,565.9 89.7,565.5 90.1,565.1 90.5,564.7 90.5,564.7 90.9,564.3 91.3,563.8 91.7,563.4 92.0,563.1 92.1,563.0 92.5,562.5 92.9,562.0 93.3,561.6 93.5,561.3 93.7,561.1 94.1,560.6 94.5,560.1 94.9,559.6 95.0,559.4 95.3,559.1 95.7,558.5 96.1,558.0 96.5,557.4 96.5,557.4 96.9,556.9 97.3,556.3 97.7,555.7 98.0,555.3 98.1,555.2 98.5,554.6 98.9,554.0 99.3,553.4 99.5,553.1 99.7,552.8 100.1,552.2 100.5,551.6 100.9,551.0 101.0,550.8 101.3,550.4 101.7,549.8 102.1,549.1 102.5,548.5 102.5,548.5 102.9,547.9 103.3,547.3 103.7,546.7 104.0,546.2 104.1,546.1 104.5,545.4 104.9,544.8 105.3,544.2 105.5,543.9 105.7,543.6 106.1,543.0 106.5,542.4 106.9,541.8 107.0,541.6 107.3,541.2 107.7,540.6 108.1,540.0 108.5,539.4 108.5,539.4 108.9,538.8 109.3,538.2 109.7,537.7 110.0,537.2 110.1,537.1 110.5,536.5 110.9,535.9 111.3,535.4 111.5,535.1 111.7,534.8 112.1,534.2 112.5,533.7 112.9,533.1 113.0,533.0 113.3,532.5 113.7,532.0 114.1,531.4 114.5,530.9 114.5,530.9 114.9,530.3 115.3,529.8 115.7,529.2 116.0,528.8 116.1,528.7 116.5,528.1 116.9,527.6 117.3,527.0 117.5,526.7 117.7,526.5 118.1,525.9 118.5,525.4 118.9,524.8 119.0,524.7 119.3,524.3 119.7,523.7 120.1,523.2 120.5,522.6 120.5,522.6 120.9,522.1 121.3,521.6 121.7,521.0 122.0,520.6 122.1,520.5 122.5,519.9 122.9,519.4 123.3,518.8 123.5,518.6 123.7,518.3 124.1,517.7 124.5,517.2 124.9,516.6 125.0,516.5 125.3,516.1 125.7,515.5 126.1,515.0 126.5,514.4 126.5,514.4 126.9,513.9 127.3,513.3 127.7,512.7 128.0,512.3 128.1,512.2 128.5,511.6 128.9,511.0 129.3,510.5 129.5,510.2 129.7,509.9 130.1,509.3 130.5,508.8 130.9,508.2 131.0,508.0 131.3,507.6 131.7,507.0 132.1,506.4 132.5,505.8 132.5,505.8 132.9,505.2 133.3,504.7 133.7,504.1 134.0,503.6 134.1,503.5 134.5,502.9 134.9,502.3 135.3,501.7 135.5,501.4 135.7,501.1 136.1,500.5 136.5,499.9 136.9,499.3 137.0,499.2 137.3,498.7 137.7,498.2 138.1,497.6 138.5,497.0 138.5,497.0 138.9,496.4 139.3,495.8 139.7,495.2 140.0,494.8 140.1,494.7 140.5,494.1 140.9,493.5 141.3,493.0 141.5,492.7 141.7,492.4 142.1,491.9 142.5,491.3 142.9,490.8 143.0,490.6 143.3,490.2 143.7,489.7 144.1,489.2 144.5,488.6 144.5,488.6 144.9,488.1 145.3,487.6 145.7,487.1 146.0,486.7 146.1,486.6 146.5,486.1 146.9,485.6 147.3,485.2 147.5,484.9 147.7,484.7 148.1,484.2 148.5,483.7 148.9,483.3 149.0,483.1 149.3,482.8 149.7,482.3 150.1,481.9 150.5,481.4 150.5,481.4 150.9,480.9 151.3,480.5 151.7,480.0 152.0,479.6 152.1,479.5 152.5,479.1 152.9,478.6 153.3,478.1 153.5,477.9 153.7,477.6 154.1,477.1 154.5,476.7 154.9,476.2 155.0,476.1 155.3,475.7 155.7,475.2 156.1,474.7 156.5,474.2 156.5,474.2 156.9,473.7 157.3,473.3 157.7,472.8 158.0,472.4 158.1,472.3 158.5,471.9 158.9,471.4 159.3,470.9 159.5,470.7 159.7,470.5 160.1,470.1 160.5,469.6 160.9,469.2 161.0,469.1 161.3,468.8 161.7,468.4 162.1,468.0 162.5,467.7 162.5,467.7 162.9,467.3 163.3,467.0 163.7,466.6 164.0,466.4 164.1,466.3 164.5,466.0 164.9,465.7 165.3,465.4 165.5,465.3 165.7,465.1 166.1,464.9 166.5,464.6 166.9,464.3 167.0,464.3 167.3,464.1 167.7,463.8 168.1,463.6 168.5,463.4 168.5,463.4 168.9,463.1 169.3,462.9 169.7,462.7 170.0,462.5 170.1,462.4 170.5,462.2 170.9,462.0 171.3,461.8 171.5,461.7 171.7,461.5 172.1,461.3 172.5,461.1 172.9,460.9 173.0,460.8 173.3,460.6 173.7,460.4 174.1,460.2 174.5,459.9 174.5,459.9 174.9,459.7 175.3,459.4 175.7,459.2 176.0,459.0 176.1,458.9 176.5,458.7 176.9,458.4 177.3,458.2 177.5,458.0 177.7,457.9 178.1,457.7 178.5,457.4 178.9,457.2 179.0,457.1 179.3,457.0 179.7,456.7 180.1,456.5 180.5,456.3 180.5,456.3 180.9,456.1 181.3,456.0 181.7,455.8 182.0,455.7 182.1,455.6 182.5,455.5 182.9,455.3 183.3,455.2 183.5,455.1 183.7,455.1 184.1,454.9 184.5,454.8 184.9,454.7 185.0,454.7 185.3,454.7 185.7,454.6 186.1,454.5 186.5,454.4 186.5,454.4 186.9,454.4 187.3,454.3 187.7,454.3 188.0,454.2 188.1,454.2 188.5,454.2 188.9,454.2 189.3,454.2 189.5,454.1 189.7,454.1 190.1,454.1 190.5,454.1 190.9,454.1 191.0,454.1 191.3,454.1 191.7,454.2 192.1,454.2 192.5,454.2 192.5,454.2 192.9,454.2 193.3,454.3 193.7,454.3 194.0,454.3 194.1,454.3 194.5,454.4 194.9,454.4 195.3,454.5 195.5,454.5 195.7,454.5 196.1,454.6 196.5,454.7 196.9,454.7 197.0,454.8 197.3,454.8 197.7,454.9 198.1,455.0 198.5,455.1 198.5,455.1 198.9,455.2 199.3,455.3 199.7,455.4 200.0,455.4 200.1,455.5 200.5,455.6 200.9,455.7 201.3,455.8 201.5,455.9 201.7,456.0 202.1,456.1 202.5,456.2 202.9,456.4 203.0,456.4 203.3,456.5 203.7,456.7 204.1,456.9 204.5,457.0 204.5,457.0 204.9,457.2 205.3,457.4 205.7,457.6 206.0,457.8 206.1,457.8 206.5,458.0 206.9,458.2 207.3,458.5 207.5,458.6 207.7,458.7 208.1,458.9 208.5,459.1 208.9,459.4 209.0,459.4 209.3,459.6 209.7,459.9 210.1,460.1 210.5,460.4 210.5,460.4 210.9,460.6 211.3,460.9 211.7,461.2 212.0,461.4 212.1,461.4 212.5,461.7 212.9,462.0 213.3,462.2 213.5,462.4 213.7,462.5 214.1,462.8 214.5,463.1 214.9,463.3 215.0,463.4 215.3,463.6 215.7,463.9 216.1,464.2 216.5,464.4 216.5,464.4 216.9,464.7 217.3,465.0 217.7,465.3 218.0,465.5 218.1,465.5 218.5,465.8 218.9,466.1 219.3,466.3 219.5,466.4 219.7,466.6 220.1,466.8 220.5,467.1 220.9,467.4 221.0,467.4 221.3,467.6 221.7,467.9 222.1,468.2 222.5,468.4 222.5,468.4 222.9,468.7 223.3,469.0 223.7,469.3 224.0,469.5 224.1,469.5 224.5,469.8 224.9,470.1 225.3,470.4 225.5,470.5 225.7,470.7 226.1,471.0 226.5,471.3 226.9,471.6 227.0,471.7 227.3,471.9 227.7,472.2 228.1,472.6 228.5,472.9 228.5,472.9 228.9,473.2 229.3,473.6 229.7,473.9 230.0,474.2 230.1,474.3 230.5,474.7 230.9,475.0 231.3,475.4 231.5,475.6 231.7,475.8 232.1,476.2 232.5,476.6 232.9,477.0 233.0,477.1 233.3,477.4 233.7,477.8 234.1,478.2 234.5,478.6 234.5,478.6 234.9,479.0 235.3,479.4 235.7,479.8 236.0,480.1 236.1,480.2 236.5,480.6 236.9,481.0 237.3,481.4 237.5,481.6 237.7,481.8 238.1,482.2 238.5,482.6 238.9,482.9 239.0,483.0 239.3,483.3 239.7,483.7 240.1,484.1 240.5,484.4 240.5,484.4 240.9,484.8 241.3,485.1 241.7,485.5 242.0,485.7 242.1,485.8 242.5,486.2 242.9,486.5 243.3,486.8 243.5,487.0 243.7,487.2 244.1,487.5 244.5,487.9 244.9,488.2 245.0,488.3 245.3,488.6 245.7,489.0 246.1,489.4 246.5,489.8 246.5,489.8 246.9,490.2 247.3,490.6 247.7,491.1 248.0,491.4 248.1,491.6 248.5,492.1 248.9,492.6 249.3,493.1 249.5,493.4 249.7,493.6 250.1,494.2 250.5,494.7 250.9,495.3 251.0,495.4 251.3,495.8 251.7,496.4 252.1,496.9 252.5,497.4 252.5,497.4 252.9,497.9 253.3,498.4 253.7,498.9 254.0,499.3 254.1,499.4 254.5,499.8 254.9,500.2 255.3,500.6 255.5,500.8 255.7,501.0 256.1,501.3 256.5,501.7 256.9,502.0 257.0,502.1 257.3,502.4 257.7,502.7 258.1,503.0 258.5,503.3 258.5,503.3 258.9,503.7 259.3,504.0 259.7,504.3 260.0,504.6 260.1,504.7 260.5,505.0 260.9,505.4 261.3,505.8 261.5,506.0 261.7,506.1 262.1,506.5 262.5,506.9 262.9,507.3 263.0,507.4 263.3,507.7 263.7,508.0 264.1,508.4 264.5,508.8 264.5,508.8 264.9,509.2 265.3,509.5 265.7,509.9 266.0,510.2 266.1,510.3 266.5,510.6 266.9,510.9 267.3,511.3 267.5,511.4 267.7,511.6 268.1,511.9 268.5,512.2 268.9,512.5 269.0,512.6 269.3,512.8 269.7,513.1 270.1,513.4 270.5,513.7 270.5,513.7 270.9,514.0 271.3,514.3 271.7,514.5 272.0,514.7 272.1,514.8 272.5,515.1 272.9,515.3 273.3,515.6 273.5,515.7 273.7,515.8 274.1,516.1 274.5,516.3 274.9,516.5 275.0,516.6 275.3,516.8 275.7,517.0 276.1,517.2 276.5,517.4 276.5,517.4 276.9,517.7 277.3,517.9 277.7,518.1 278.0,518.2 278.1,518.3 278.5,518.5 278.9,518.7 279.3,518.9 279.5,519.0 279.7,519.1 280.1,519.3 280.5,519.5 280.9,519.7 281.0,519.8 281.3,519.9 281.7,520.1 282.1,520.3 282.5,520.5 282.5,520.5 282.9,520.6 283.3,520.8 283.7,521.0 284.0,521.1 284.1,521.2 284.5,521.3 284.9,521.5 285.3,521.7 285.5,521.8 285.7,521.8 286.1,522.0 286.5,522.1 286.9,522.3 287.0,522.3 287.3,522.5 287.7,522.6 288.1,522.7 288.5,522.9 288.5,522.9 288.9,523.0 289.3,523.2 289.7,523.3 290.0,523.4 290.1,523.4 290.5,523.6 290.9,523.7 291.3,523.8 291.5,523.9 291.7,523.9 292.1,524.1 292.5,524.2 292.9,524.3 293.0,524.3 293.3,524.4 293.7,524.5 294.1,524.6 294.5,524.7 294.5,524.7 294.9,524.8 295.3,524.9 295.7,525.0 296.0,525.1 296.1,525.1 296.5,525.2 296.9,525.2 297.3,525.3 297.5,525.4 297.7,525.4 298.1,525.5 298.5,525.5 298.9,525.6 299.0,525.6 299.3,525.7 299.7,525.7 300.1,525.8 300.5,525.9 300.5,525.9 300.9,525.9 301.3,526.0 301.7,526.0 302.0,526.0 302.1,526.0 302.5,526.1 302.9,526.1 303.3,526.2 303.5,526.2 303.7,526.2 304.1,526.2 304.5,526.2 304.9,526.2 305.0,526.2 305.3,526.3 305.7,526.3 306.1,526.3 306.5,526.3 306.5,526.3 306.9,526.3 307.3,526.3 307.7,526.2 308.0,526.2 308.1,526.2 308.5,526.2 308.9,526.2 309.3,526.1 309.5,526.1 309.7,526.1 310.1,526.0 310.5,526.0 310.9,525.9 311.0,525.9 311.3,525.9 311.7,525.8 312.1,525.7 312.5,525.6 312.5,525.6 312.9,525.5 313.3,525.4 313.7,525.3 314.0,525.3 314.1,525.2 314.5,525.1 314.9,525.0 315.3,524.9 315.5,524.8 315.7,524.7 316.1,524.6 316.5,524.4 316.9,524.3 317.0,524.3 317.3,524.1 317.7,524.0 318.1,523.8 318.5,523.6 318.5,523.6 318.9,523.5 319.3,523.3 319.7,523.1 320.0,523.0 320.1,522.9 320.5,522.8 320.9,522.6 321.3,522.4 321.5,522.3 321.7,522.2 322.1,522.0 322.5,521.8 322.9,521.6 323.0,521.6 323.3,521.5 323.7,521.3 324.1,521.1 324.5,520.9 324.5,520.9 324.9,520.7 325.3,520.5 325.7,520.3 326.0,520.2 326.1,520.1 326.5,520.0 326.9,519.8 327.3,519.6 327.5,519.5 327.7,519.4 328.1,519.2 328.5,519.1 328.9,518.9 329.0,518.8 329.3,518.7 329.7,518.5 330.1,518.3 330.5,518.2 330.5,518.2 330.9,518.0 331.3,517.8 331.7,517.6 332.0,517.5 332.1,517.4 332.5,517.2 332.9,517.0 333.3,516.8 333.5,516.7 333.7,516.6 334.1,516.4 334.5,516.2 334.9,516.0 335.0,515.9 335.3,515.8 335.7,515.6 336.1,515.3 336.5,515.1 336.5,515.1 336.9,514.8 337.3,514.6 337.7,514.4 338.0,514.2 338.1,514.1 338.5,513.8 338.9,513.6 339.3,513.3 339.5,513.2 339.7,513.0 340.1,512.7 340.5,512.5 340.9,512.2 341.0,512.1 341.3,511.9 341.7,511.6 342.1,511.3 342.5,511.0 342.5,511.0 342.9,510.7 343.3,510.4 343.7,510.1 344.0,509.8 344.1,509.8 344.5,509.5 344.9,509.2 345.3,508.9 345.5,508.7 345.7,508.6 346.1,508.3 346.5,508.0 346.9,507.7 347.0,507.6 347.3,507.4 347.7,507.1 348.1,506.8 348.5,506.5 348.5,506.5 348.9,506.2 349.3,505.9 349.7,505.6 350.0,505.4 350.1,505.3 350.5,505.1 350.9,504.8 351.3,504.5 351.5,504.4 351.7,504.3 352.1,504.0 352.5,503.7 352.9,503.5 353.0,503.4 353.3,503.2 353.7,503.0 354.1,502.7 354.5,502.4 354.5,502.4 354.9,502.2 355.3,501.9 355.7,501.6 356.0,501.4 356.1,501.4 356.5,501.1 356.9,500.8 357.3,500.6 357.5,500.4 357.7,500.3 358.1,500.0 358.5,499.7 358.9,499.4 359.0,499.3 359.3,499.1 359.7,498.8 360.1,498.5 360.5,498.2 360.5,498.2 360.9,497.9 361.3,497.5 361.7,497.2 362.0,496.9 362.1,496.9 362.5,496.5 362.9,496.2 363.3,495.8 363.5,495.7 363.7,495.5 364.1,495.2 364.5,494.8 364.9,494.5 365.0,494.4 365.3,494.2 365.7,493.9 366.1,493.6 366.5,493.3 366.5,493.3 366.9,493.0 367.3,492.8 367.7,492.5 368.0,492.3 368.1,492.2 368.5,492.0 368.9,491.7 369.3,491.5 369.5,491.4 369.7,491.3 370.1,491.0 370.5,490.8 370.9,490.6 371.0,490.5 371.3,490.3 371.7,490.1 372.1,489.8 372.5,489.6 372.5,489.6 372.9,489.4 373.3,489.1 373.7,488.9 374.0,488.7 374.1,488.6 374.5,488.4 374.9,488.1 375.3,487.9 375.5,487.8 375.7,487.6 376.1,487.4 376.5,487.2 376.9,486.9 377.0,486.8 377.3,486.7 377.7,486.4 378.1,486.2 378.5,485.9 378.5,485.9 378.9,485.7 379.3,485.4 379.7,485.2 380.0,485.0 380.1,484.9 380.5,484.7 380.9,484.5 381.3,484.2 381.5,484.1 381.7,484.0 382.1,483.7 382.5,483.5 382.9,483.3 383.0,483.2 383.3,483.0 383.7,482.8 384.1,482.6 384.5,482.4 384.5,482.4 384.9,482.1 385.3,481.9 385.7,481.7 386.0,481.5 386.1,481.5 386.5,481.3 386.9,481.1 387.3,480.8 387.5,480.7 387.7,480.6 388.1,480.4 388.5,480.2 388.9,480.0 389.0,480.0 389.3,479.9 389.7,479.7 390.1,479.5 390.5,479.3 390.5,479.3 390.9,479.1 391.3,479.0 391.7,478.8 392.0,478.7 392.1,478.6 392.5,478.5 392.9,478.3 393.3,478.2 393.5,478.1 393.7,478.0 394.1,477.9 394.5,477.8 394.9,477.6 395.0,477.6 395.3,477.5 395.7,477.4 396.1,477.3 396.5,477.2 396.5,477.2 396.9,477.1 397.3,477.0 397.7,476.9 398.0,476.8 398.1,476.8 398.5,476.7 398.9,476.6 399.3,476.5 399.5,476.5 399.7,476.4 400.1,476.3 400.5,476.2 400.9,476.2 401.0,476.1 401.3,476.1 401.7,476.0 402.1,475.9 402.5,475.9 402.5,475.9 402.9,475.8 403.3,475.7 403.7,475.6 404.0,475.5 404.1,475.5 404.5,475.4 404.9,475.3 405.3,475.3 405.5,475.2 405.7,475.2 406.1,475.1 406.5,475.0 406.9,474.9 407.0,474.8" fill="none" stroke="#009E73" stroke-width="1.55" stroke-linejoin="round" />
<path d="M60.5,579.9 60.9,579.9 61.3,580.0 61.7,580.0 62.0,580.0 62.1,580.0 62.5,580.0 62.9,580.0 63.3,580.0 63.5,580.0 63.7,580.0 64.1,580.0 64.5,580.0 64.9,580.0 65.0,580.0 65.3,579.9 65.7,579.9 66.1,579.9 66.5,579.8 66.5,579.8 66.9,579.8 67.3,579.7 67.7,579.7 68.0,579.6 68.1,579.6 68.5,579.5 68.9,579.4 69.3,579.3 69.5,579.3 69.7,579.3 70.1,579.2 70.5,579.1 70.9,579.0 71.0,578.9 71.3,578.8 71.7,578.7 72.1,578.6 72.5,578.5 72.5,578.5 72.9,578.3 73.3,578.2 73.7,578.0 74.0,577.9 74.1,577.9 74.5,577.7 74.9,577.6 75.3,577.4 75.5,577.3 75.7,577.2 76.1,577.0 76.5,576.9 76.9,576.7 77.0,576.6 77.3,576.5 77.7,576.3 78.1,576.1 78.5,575.8 78.5,575.8 78.9,575.6 79.3,575.4 79.7,575.2 80.0,575.0 80.1,574.9 80.5,574.7 80.9,574.4 81.3,574.2 81.5,574.1 81.7,573.9 82.1,573.7 82.5,573.4 82.9,573.1 83.0,573.0 83.3,572.8 83.7,572.6 84.1,572.3 84.5,572.0 84.5,572.0 84.9,571.7 85.3,571.4 85.7,571.1 86.0,570.8 86.1,570.7 86.5,570.4 86.9,570.1 87.3,569.8 87.5,569.6 87.7,569.4 88.1,569.1 88.5,568.7 88.9,568.4 89.0,568.3 89.3,568.0 89.7,567.7 90.1,567.3 90.5,567.0 90.5,567.0 90.9,566.6 91.3,566.2 91.7,565.8 92.0,565.5 92.1,565.5 92.5,565.1 92.9,564.7 93.3,564.3 93.5,564.1 93.7,563.9 94.1,563.5 94.5,563.1 94.9,562.7 95.0,562.5 95.3,562.2 95.7,561.8 96.1,561.4 96.5,561.0 96.5,561.0 96.9,560.5 97.3,560.1 97.7,559.7 98.0,559.3 98.1,559.2 98.5,558.8 98.9,558.3 99.3,557.9 99.5,557.6 99.7,557.4 100.1,557.0 100.5,556.5 100.9,556.0 101.0,555.9 101.3,555.6 101.7,555.1 102.1,554.6 102.5,554.2 102.5,554.2 102.9,553.7 103.3,553.2 103.7,552.7 104.0,552.4 104.1,552.2 104.5,551.8 104.9,551.3 105.3,550.8 105.5,550.5 105.7,550.3 106.1,549.8 106.5,549.3 106.9,548.8 107.0,548.7 107.3,548.3 107.7,547.8 108.1,547.3 108.5,546.8 108.5,546.8 108.9,546.3 109.3,545.7 109.7,545.2 110.0,544.8 110.1,544.7 110.5,544.2 110.9,543.7 111.3,543.2 111.5,542.9 111.7,542.6 112.1,542.1 112.5,541.6 112.9,541.1 113.0,540.9 113.3,540.5 113.7,540.0 114.1,539.5 114.5,538.9 114.5,538.9 114.9,538.4 115.3,537.8 115.7,537.3 116.0,536.9 116.1,536.7 116.5,536.2 116.9,535.6 117.3,535.1 117.5,534.8 117.7,534.5 118.1,534.0 118.5,533.4 118.9,532.9 119.0,532.7 119.3,532.3 119.7,531.7 120.1,531.2 120.5,530.6 120.5,530.6 120.9,530.0 121.3,529.4 121.7,528.9 122.0,528.4 122.1,528.3 122.5,527.7 122.9,527.1 123.3,526.5 123.5,526.2 123.7,525.9 124.1,525.3 124.5,524.8 124.9,524.2 125.0,524.0 125.3,523.6 125.7,523.0 126.1,522.4 126.5,521.7 126.5,521.7 126.9,521.1 127.3,520.5 127.7,519.9 128.0,519.5 128.1,519.3 128.5,518.7 128.9,518.1 129.3,517.4 129.5,517.1 129.7,516.8 130.1,516.2 130.5,515.6 130.9,514.9 131.0,514.8 131.3,514.3 131.7,513.7 132.1,513.1 132.5,512.4 132.5,512.4 132.9,511.8 133.3,511.2 133.7,510.5 134.0,510.1 134.1,509.9 134.5,509.3 134.9,508.7 135.3,508.0 135.5,507.7 135.7,507.4 136.1,506.8 136.5,506.2 136.9,505.6 137.0,505.4 137.3,505.0 137.7,504.4 138.1,503.7 138.5,503.1 138.5,503.1 138.9,502.5 139.3,502.0 139.7,501.4 140.0,500.9 140.1,500.8 140.5,500.2 140.9,499.6 141.3,499.0 141.5,498.8 141.7,498.5 142.1,497.9 142.5,497.4 142.9,496.8 143.0,496.7 143.3,496.3 143.7,495.7 144.1,495.2 144.5,494.7 144.5,494.7 144.9,494.2 145.3,493.7 145.7,493.2 146.0,492.8 146.1,492.7 146.5,492.2 146.9,491.7 147.3,491.2 147.5,491.0 147.7,490.7 148.1,490.2 148.5,489.8 148.9,489.3 149.0,489.2 149.3,488.8 149.7,488.3 150.1,487.9 150.5,487.4 150.5,487.4 150.9,486.9 151.3,486.4 151.7,485.9 152.0,485.5 152.1,485.4 152.5,484.9 152.9,484.4 153.3,483.9 153.5,483.6 153.7,483.4 154.1,482.8 154.5,482.3 154.9,481.7 155.0,481.6 155.3,481.1 155.7,480.6 156.1,480.0 156.5,479.4 156.5,479.4 156.9,478.8 157.3,478.2 157.7,477.6 158.0,477.2 158.1,477.0 158.5,476.5 158.9,475.9 159.3,475.3 159.5,475.0 159.7,474.7 160.1,474.2 160.5,473.6 160.9,473.1 161.0,472.9 161.3,472.6 161.7,472.0 162.1,471.5 162.5,471.1 162.5,471.1 162.9,470.6 163.3,470.2 163.7,469.8 164.0,469.5 164.1,469.4 164.5,469.0 164.9,468.7 165.3,468.3 165.5,468.2 165.7,468.0 166.1,467.7 166.5,467.5 166.9,467.2 167.0,467.1 167.3,466.9 167.7,466.7 168.1,466.5 168.5,466.2 168.5,466.2 168.9,466.0 169.3,465.8 169.7,465.6 170.0,465.4 170.1,465.4 170.5,465.2 170.9,465.0 171.3,464.8 171.5,464.7 171.7,464.6 172.1,464.4 172.5,464.2 172.9,463.9 173.0,463.9 173.3,463.7 173.7,463.5 174.1,463.2 174.5,463.0 174.5,463.0 174.9,462.7 175.3,462.5 175.7,462.2 176.0,462.0 176.1,461.9 176.5,461.6 176.9,461.3 177.3,461.0 177.5,460.8 177.7,460.7 178.1,460.4 178.5,460.1 178.9,459.8 179.0,459.7 179.3,459.5 179.7,459.2 180.1,458.9 180.5,458.6 180.5,458.6 180.9,458.3 181.3,458.0 181.7,457.7 182.0,457.5 182.1,457.5 182.5,457.2 182.9,457.0 183.3,456.7 183.5,456.6 183.7,456.5 184.1,456.3 184.5,456.0 184.9,455.8 185.0,455.8 185.3,455.6 185.7,455.4 186.1,455.2 186.5,455.0 186.5,455.0 186.9,454.9 187.3,454.7 187.7,454.5 188.0,454.4 188.1,454.4 188.5,454.2 188.9,454.1 189.3,453.9 189.5,453.9 189.7,453.8 190.1,453.7 190.5,453.6 190.9,453.4 191.0,453.4 191.3,453.3 191.7,453.2 192.1,453.1 192.5,453.0 192.5,453.0 192.9,452.9 193.3,452.9 193.7,452.8 194.0,452.7 194.1,452.7 194.5,452.6 194.9,452.6 195.3,452.5 195.5,452.5 195.7,452.5 196.1,452.4 196.5,452.4 196.9,452.4 197.0,452.3 197.3,452.3 197.7,452.3 198.1,452.3 198.5,452.2 198.5,452.2 198.9,452.2 199.3,452.2 199.7,452.2 200.0,452.2 200.1,452.2 200.5,452.2 200.9,452.2 201.3,452.2 201.5,452.2 201.7,452.2 202.1,452.3 202.5,452.3 202.9,452.3 203.0,452.3 203.3,452.3 203.7,452.4 204.1,452.4 204.5,452.4 204.5,452.4 204.9,452.5 205.3,452.5 205.7,452.6 206.0,452.6 206.1,452.6 206.5,452.7 206.9,452.7 207.3,452.8 207.5,452.8 207.7,452.8 208.1,452.9 208.5,453.0 208.9,453.0 209.0,453.1 209.3,453.1 209.7,453.2 210.1,453.3 210.5,453.3 210.5,453.3 210.9,453.4 211.3,453.5 211.7,453.6 212.0,453.7 212.1,453.7 212.5,453.8 212.9,453.9 213.3,454.0 213.5,454.1 213.7,454.1 214.1,454.2 214.5,454.3 214.9,454.5 215.0,454.5 215.3,454.6 215.7,454.7 216.1,454.8 216.5,455.0 216.5,455.0 216.9,455.1 217.3,455.2 217.7,455.4 218.0,455.5 218.1,455.5 218.5,455.7 218.9,455.8 219.3,456.0 219.5,456.0 219.7,456.1 220.1,456.3 220.5,456.5 220.9,456.6 221.0,456.7 221.3,456.8 221.7,457.0 222.1,457.2 222.5,457.3 222.5,457.3 222.9,457.5 223.3,457.7 223.7,457.9 224.0,458.1 224.1,458.1 224.5,458.3 224.9,458.5 225.3,458.7 225.5,458.8 225.7,458.9 226.1,459.2 226.5,459.4 226.9,459.6 227.0,459.7 227.3,459.8 227.7,460.1 228.1,460.3 228.5,460.6 228.5,460.6 228.9,460.8 229.3,461.1 229.7,461.3 230.0,461.5 230.1,461.6 230.5,461.8 230.9,462.1 231.3,462.4 231.5,462.5 231.7,462.6 232.1,462.9 232.5,463.2 232.9,463.5 233.0,463.5 233.3,463.7 233.7,464.0 234.1,464.3 234.5,464.6 234.5,464.6 234.9,464.9 235.3,465.2 235.7,465.5 236.0,465.7 236.1,465.8 236.5,466.1 236.9,466.4 237.3,466.7 237.5,466.8 237.7,467.0 238.1,467.3 238.5,467.6 238.9,467.9 239.0,467.9 239.3,468.2 239.7,468.5 240.1,468.8 240.5,469.1 240.5,469.1 240.9,469.4 241.3,469.7 241.7,470.0 242.0,470.2 242.1,470.3 242.5,470.6 242.9,470.9 243.3,471.2 243.5,471.3 243.7,471.5 244.1,471.8 244.5,472.1 244.9,472.5 245.0,472.5 245.3,472.8 245.7,473.2 246.1,473.5 246.5,473.9 246.5,473.9 246.9,474.3 247.3,474.7 247.7,475.1 248.0,475.5 248.1,475.6 248.5,476.0 248.9,476.5 249.3,477.0 249.5,477.2 249.7,477.5 250.1,478.0 250.5,478.5 250.9,479.0 251.0,479.2 251.3,479.5 251.7,480.1 252.1,480.6 252.5,481.1 252.5,481.1 252.9,481.6 253.3,482.1 253.7,482.6 254.0,482.9 254.1,483.0 254.5,483.5 254.9,483.9 255.3,484.4 255.5,484.6 255.7,484.8 256.1,485.2 256.5,485.6 256.9,486.0 257.0,486.1 257.3,486.3 257.7,486.7 258.1,487.0 258.5,487.3 258.5,487.3 258.9,487.7 259.3,488.0 259.7,488.2 260.0,488.5 260.1,488.5 260.5,488.8 260.9,489.1 261.3,489.3 261.5,489.4 261.7,489.6 262.1,489.8 262.5,490.0 262.9,490.3 263.0,490.3 263.3,490.5 263.7,490.7 264.1,491.0 264.5,491.2 264.5,491.2 264.9,491.4 265.3,491.7 265.7,491.9 266.0,492.1 266.1,492.2 266.5,492.4 266.9,492.7 267.3,493.0 267.5,493.1 267.7,493.3 268.1,493.5 268.5,493.8 268.9,494.1 269.0,494.2 269.3,494.5 269.7,494.8 270.1,495.1 270.5,495.4 270.5,495.4 270.9,495.8 271.3,496.2 271.7,496.5 272.0,496.8 272.1,496.9 272.5,497.3 272.9,497.7 273.3,498.1 273.5,498.3 273.7,498.5 274.1,498.9 274.5,499.3 274.9,499.7 275.0,499.8 275.3,500.1 275.7,500.6 276.1,501.0 276.5,501.4 276.5,501.4 276.9,501.8 277.3,502.2 277.7,502.6 278.0,502.8 278.1,502.9 278.5,503.3 278.9,503.7 279.3,504.0 279.5,504.2 279.7,504.4 280.1,504.7 280.5,505.1 280.9,505.4 281.0,505.5 281.3,505.7 281.7,506.0 282.1,506.3 282.5,506.7 282.5,506.7 282.9,507.0 283.3,507.3 283.7,507.5 284.0,507.8 284.1,507.8 284.5,508.1 284.9,508.4 285.3,508.6 285.5,508.8 285.7,508.9 286.1,509.2 286.5,509.4 286.9,509.7 287.0,509.7 287.3,509.9 287.7,510.2 288.1,510.4 288.5,510.6 288.5,510.6 288.9,510.9 289.3,511.1 289.7,511.3 290.0,511.5 290.1,511.5 290.5,511.8 290.9,512.0 291.3,512.2 291.5,512.3 291.7,512.4 292.1,512.6 292.5,512.8 292.9,513.0 293.0,513.1 293.3,513.2 293.7,513.4 294.1,513.6 294.5,513.8 294.5,513.8 294.9,514.0 295.3,514.2 295.7,514.4 296.0,514.5 296.1,514.6 296.5,514.8 296.9,515.0 297.3,515.1 297.5,515.2 297.7,515.3 298.1,515.5 298.5,515.7 298.9,515.9 299.0,515.9 299.3,516.1 299.7,516.3 300.1,516.5 300.5,516.6 300.5,516.6 300.9,516.8 301.3,517.0 301.7,517.2 302.0,517.4 302.1,517.4 302.5,517.6 302.9,517.8 303.3,518.0 303.5,518.1 303.7,518.2 304.1,518.4 304.5,518.6 304.9,518.7 305.0,518.8 305.3,518.9 305.7,519.1 306.1,519.3 306.5,519.5 306.5,519.5 306.9,519.6 307.3,519.8 307.7,520.0 308.0,520.1 308.1,520.1 308.5,520.3 308.9,520.4 309.3,520.6 309.5,520.6 309.7,520.7 310.1,520.8 310.5,520.9 310.9,521.1 311.0,521.1 311.3,521.2 311.7,521.3 312.1,521.4 312.5,521.5 312.5,521.5 312.9,521.5 313.3,521.6 313.7,521.7 314.0,521.7 314.1,521.7 314.5,521.8 314.9,521.8 315.3,521.8 315.5,521.8 315.7,521.8 316.1,521.8 316.5,521.9 316.9,521.9 317.0,521.9 317.3,521.9 317.7,521.8 318.1,521.8 318.5,521.8 318.5,521.8 318.9,521.8 319.3,521.7 319.7,521.7 320.0,521.7 320.1,521.7 320.5,521.6 320.9,521.6 321.3,521.6 321.5,521.5 321.7,521.5 322.1,521.5 322.5,521.4 322.9,521.4 323.0,521.4 323.3,521.4 323.7,521.3 324.1,521.3 324.5,521.3 324.5,521.3 324.9,521.3 325.3,521.2 325.7,521.2 326.0,521.2 326.1,521.2 326.5,521.2 326.9,521.2 327.3,521.2 327.5,521.2 327.7,521.2 328.1,521.2 328.5,521.2 328.9,521.2 329.0,521.2 329.3,521.2 329.7,521.2 330.1,521.2 330.5,521.2 330.5,521.2 330.9,521.2 331.3,521.2 331.7,521.2 332.0,521.2 332.1,521.2 332.5,521.2 332.9,521.2 333.3,521.1 333.5,521.1 333.7,521.1 334.1,521.0 334.5,521.0 334.9,520.9 335.0,520.9 335.3,520.8 335.7,520.7 336.1,520.6 336.5,520.5 336.5,520.5 336.9,520.4 337.3,520.2 337.7,520.1 338.0,519.9 338.1,519.9 338.5,519.7 338.9,519.5 339.3,519.3 339.5,519.2 339.7,519.1 340.1,518.8 340.5,518.6 340.9,518.4 341.0,518.3 341.3,518.1 341.7,517.8 342.1,517.6 342.5,517.3 342.5,517.3 342.9,517.0 343.3,516.8 343.7,516.5 344.0,516.3 344.1,516.2 344.5,515.9 344.9,515.7 345.3,515.4 345.5,515.3 345.7,515.1 346.1,514.9 346.5,514.6 346.9,514.4 347.0,514.3 347.3,514.1 347.7,513.9 348.1,513.6 348.5,513.4 348.5,513.4 348.9,513.2 349.3,513.0 349.7,512.8 350.0,512.7 350.1,512.6 350.5,512.5 350.9,512.3 351.3,512.2 351.5,512.1 351.7,512.0 352.1,511.9 352.5,511.8 352.9,511.7 353.0,511.6 353.3,511.5 353.7,511.4 354.1,511.3 354.5,511.2 354.5,511.2 354.9,511.1 355.3,511.0 355.7,510.9 356.0,510.8 356.1,510.8 356.5,510.7 356.9,510.6 357.3,510.5 357.5,510.4 357.7,510.3 358.1,510.2 358.5,510.0 358.9,509.9 359.0,509.8 359.3,509.7 359.7,509.5 360.1,509.3 360.5,509.1 360.5,509.1 360.9,508.9 361.3,508.6 361.7,508.3 362.0,508.1 362.1,508.1 362.5,507.8 362.9,507.4 363.3,507.1 363.5,507.0 363.7,506.8 364.1,506.4 364.5,506.1 364.9,505.7 365.0,505.6 365.3,505.3 365.7,505.0 366.1,504.6 366.5,504.2 366.5,504.2 366.9,503.8 367.3,503.4 367.7,503.0 368.0,502.7 368.1,502.6 368.5,502.2 368.9,501.8 369.3,501.4 369.5,501.2 369.7,501.0 370.1,500.6 370.5,500.3 370.9,499.9 371.0,499.8 371.3,499.6 371.7,499.3 372.1,498.9 372.5,498.7 372.5,498.7 372.9,498.4 373.3,498.1 373.7,497.9 374.0,497.7 374.1,497.6 374.5,497.4 374.9,497.2 375.3,496.9 375.5,496.8 375.7,496.7 376.1,496.5 376.5,496.3 376.9,496.2 377.0,496.1 377.3,496.0 377.7,495.8 378.1,495.6 378.5,495.4 378.5,495.4 378.9,495.2 379.3,495.1 379.7,494.9 380.0,494.7 380.1,494.7 380.5,494.5 380.9,494.3 381.3,494.1 381.5,494.0 381.7,493.9 382.1,493.7 382.5,493.4 382.9,493.2 383.0,493.1 383.3,492.9 383.7,492.7 384.1,492.4 384.5,492.1 384.5,492.1 384.9,491.8 385.3,491.5 385.7,491.2 386.0,491.0 386.1,490.9 386.5,490.6 386.9,490.3 387.3,490.0 387.5,489.8 387.7,489.6 388.1,489.3 388.5,488.9 388.9,488.6 389.0,488.5 389.3,488.2 389.7,487.9 390.1,487.5 390.5,487.2 390.5,487.2 390.9,486.9 391.3,486.5 391.7,486.2 392.0,485.9 392.1,485.8 392.5,485.5 392.9,485.2 393.3,484.8 393.5,484.7 393.7,484.5 394.1,484.2 394.5,483.9 394.9,483.6 395.0,483.5 395.3,483.3 395.7,483.0 396.1,482.8 396.5,482.5 396.5,482.5 396.9,482.3 397.3,482.0 397.7,481.8 398.0,481.6 398.1,481.5 398.5,481.3 398.9,481.1 399.3,480.9 399.5,480.8 399.7,480.7 400.1,480.5 400.5,480.3 400.9,480.1 401.0,480.0 401.3,479.9 401.7,479.7 402.1,479.5 402.5,479.3 402.5,479.3 402.9,479.2 403.3,479.0 403.7,478.8 404.0,478.7 404.1,478.6 404.5,478.5 404.9,478.3 405.3,478.1 405.5,478.0 405.7,477.9 406.1,477.8 406.5,477.6 406.9,477.4 407.0,477.4" fill="none" stroke="#CC79A7" stroke-width="1.55" stroke-linejoin="round" />
</g>
<rect x="60.45" y="438.2" width="346.95" height="141.7" fill="none" stroke="#222" stroke-width="0.95"/>
<text x="48.6" y="584.1" style="font-family:&quot;Liberation Serif&quot;,serif;font-size:13.1px">0</text>
<text x="38.1" y="548.6" style="font-family:&quot;Liberation Serif&quot;,serif;font-size:13.1px" textLength="16.8" lengthAdjust="spacing">0.2</text>
<text x="38.1" y="513.2" style="font-family:&quot;Liberation Serif&quot;,serif;font-size:13.1px" textLength="16.8" lengthAdjust="spacing">0.4</text>
<text x="38.1" y="477.8" style="font-family:&quot;Liberation Serif&quot;,serif;font-size:13.1px" textLength="16.8" lengthAdjust="spacing">0.6</text>
<text x="38.1" y="442.4" style="font-family:&quot;Liberation Serif&quot;,serif;font-size:13.1px" textLength="16.8" lengthAdjust="spacing">0.8</text>
<text x="60.7" y="593.8" text-anchor="middle" style="font-family:&quot;Liberation Serif&quot;,serif;font-size:13.0px">0</text>
<text x="137.8" y="593.8" text-anchor="middle" style="font-family:&quot;Liberation Serif&quot;,serif;font-size:13.0px">1</text>
<text x="215.1" y="593.8" text-anchor="middle" style="font-family:&quot;Liberation Serif&quot;,serif;font-size:13.0px">2</text>
<text x="292.2" y="593.8" text-anchor="middle" style="font-family:&quot;Liberation Serif&quot;,serif;font-size:13.0px">3</text>
<text x="369.4" y="593.8" text-anchor="middle" style="font-family:&quot;Liberation Serif&quot;,serif;font-size:13.0px">4</text>
<g transform="translate(0,524.0500000000001) rotate(-90)"><line x1="0.5" y1="6.2" x2="0.5" y2="22.8" stroke="#111" stroke-width="0.8"/><line x1="29.8" y1="6.2" x2="29.8" y2="22.8" stroke="#111" stroke-width="0.8"/><polyline points="8.0,6.3 3.9,14.3 8.0,22.1" fill="none" stroke="#111" stroke-width="0.8"/><polyline points="21.6,6.3 25.9,14.3 21.6,22.1" fill="none" stroke="#111" stroke-width="0.8"/><text x="9.7" y="17.6" style="font-family:&quot;Liberation Serif&quot;,serif;font-size:13.8px">I</text><polyline points="10.5,7.0 12.1,4.9 13.8,7.0" fill="none" stroke="#111" stroke-width="0.8"/><text x="15.2" y="21.4" style="font-family:&quot;Liberation Serif&quot;,serif;font-size:9.8px;font-weight:bold;font-style:italic">z</text></g>
<text x="204.9" y="612.4" style="font-family:&quot;Liberation Serif&quot;,serif;font-size:14.5px;font-style:italic">t</text>
<text x="209.6" y="615.7" style="font-family:&quot;Liberation Serif&quot;,serif;font-size:10px">contact</text>
<text x="243" y="612.4" style="font-family:&quot;Liberation Serif&quot;,serif;font-size:13px">(μs)</text>
<rect x="220.6" y="537.5" width="177" height="38.2" fill="#fff" stroke="#222" stroke-width="0.9"/>
<line x1="226.9" y1="548.1" x2="255.1" y2="548.1" stroke="#56B4E9" stroke-width="1.9"/>
<line x1="226.9" y1="564.0" x2="255.1" y2="564.0" stroke="#D55E00" stroke-width="1.9"/>
<line x1="306.3" y1="548.1" x2="334.5" y2="548.1" stroke="#009E73" stroke-width="1.9"/>
<line x1="306.3" y1="564.0" x2="334.5" y2="564.0" stroke="#CC79A7" stroke-width="1.9"/>
<text x="259.8" y="550.9" style="font-family:&quot;Liberation Serif&quot;,serif;font-size:9.4px;letter-spacing:0.45px" text-anchor="start">NOVEL</text>
<text x="259.8" y="566.5" style="font-family:&quot;Liberation Serif&quot;,serif;font-size:9.4px;letter-spacing:0.45px" text-anchor="start">BEAM</text>
<text x="339.2" y="550.9" style="font-family:&quot;Liberation Serif&quot;,serif;font-size:9.4px;letter-spacing:0.45px" text-anchor="start">PLATO</text>
<text x="338.6" y="566.8" style="font-family:&quot;Liberation Serif&quot;,serif;font-size:9.4px;letter-spacing:0.45px"><tspan style="font-size:12px">c</tspan>RW-OPT<tspan style="font-size:12px" dx="0.6">1</tspan></text>
</svg></body></html>
